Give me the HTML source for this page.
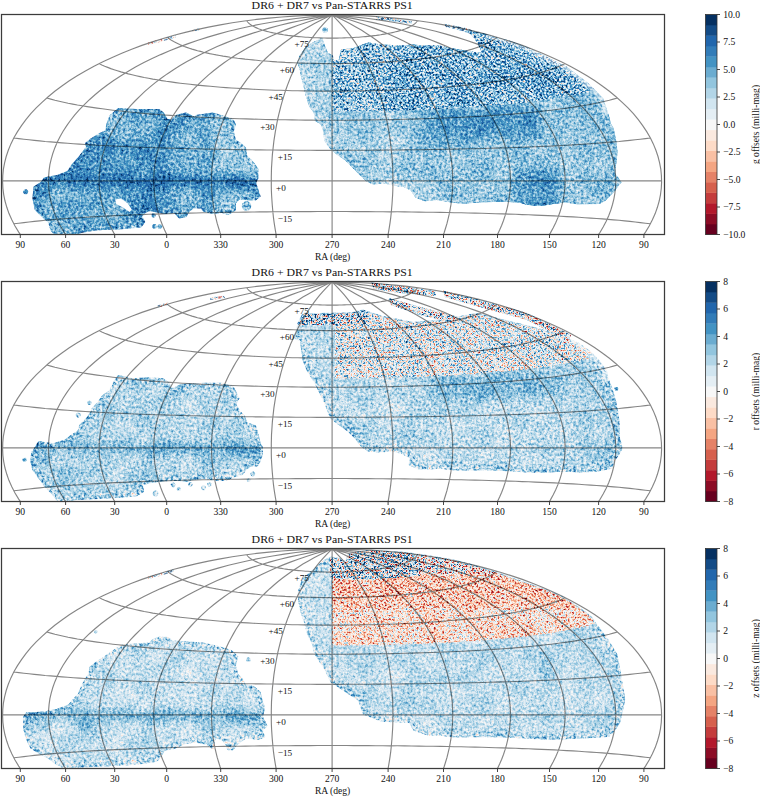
<!DOCTYPE html><html><head><meta charset="utf-8"><style>html,body{margin:0;padding:0;background:#fff;}svg{display:block;}text{font-family:"Liberation Serif",serif;fill:#111;}</style></head><body>
<svg width="760" height="797" viewBox="0 0 760 797">
<defs>
<clipPath id="clip0"><rect x="1.5" y="14.5" width="663.0" height="220.0"/></clipPath>
<clipPath id="clip1"><rect x="1.5" y="281.5" width="663.0" height="220.0"/></clipPath>
<clipPath id="clip2"><rect x="1.5" y="548.5" width="663.0" height="220.0"/></clipPath>
<filter id="cm" filterUnits="userSpaceOnUse" x="0" y="0" width="760" height="797" color-interpolation-filters="sRGB">
<feGaussianBlur in="SourceGraphic" stdDeviation="4.0" result="sb"/>
<feColorMatrix in="sb" type="matrix" values="0 1 0 0 0 0 1 0 0 0 0 1 0 0 0 0 0 0 0 1" result="amp"/>
<feColorMatrix in="sb" type="matrix" values="1 0 0 0 0 1 0 0 0 0 1 0 0 0 0 0 0 0 0 1" result="bias"/>
<feTurbulence type="fractalNoise" baseFrequency="0.38" numOctaves="2" seed="3" result="t"/>
<feColorMatrix in="t" type="matrix" values="1 0 0 0 0 1 0 0 0 0 1 0 0 0 0 0 0 0 0 1" result="n"/>
<feComposite in="amp" in2="n" operator="arithmetic" k1="2.0" k2="-1.0" k3="0" k4="0.5" result="x"/>
<feTurbulence type="fractalNoise" baseFrequency="0.045" numOctaves="2" seed="11" result="t2"/>
<feColorMatrix in="t2" type="matrix" values="1 0 0 0 0 1 0 0 0 0 1 0 0 0 0 0 0 0 0 1" result="n2"/>
<feComposite in="x" in2="n2" operator="arithmetic" k1="0" k2="1" k3="0.15" k4="-0.075" result="x2"/>
<feComposite in="bias" in2="x2" operator="arithmetic" k1="0" k2="1" k3="1" k4="-0.5" result="v"/>
<feComponentTransfer in="v"><feFuncR type="discrete" tableValues="0.4039 0.5510 0.6980 0.7686 0.8392 0.8980 0.9569 0.9745 0.9922 0.9804 0.9686 0.8941 0.8196 0.6961 0.5725 0.4176 0.2627 0.1961 0.1294 0.0745 0.0196"/><feFuncG type="discrete" tableValues="0.0000 0.0471 0.0941 0.2353 0.3765 0.5118 0.6471 0.7529 0.8588 0.9137 0.9686 0.9333 0.8980 0.8353 0.7725 0.6745 0.5765 0.4882 0.4000 0.2941 0.1882"/><feFuncB type="discrete" tableValues="0.1216 0.1451 0.1686 0.2353 0.3020 0.4059 0.5098 0.6451 0.7804 0.8745 0.9686 0.9549 0.9412 0.9059 0.8706 0.8176 0.7647 0.7196 0.6745 0.5275 0.3804"/><feFuncA type="linear" slope="0" intercept="1"/></feComponentTransfer>
<feGaussianBlur stdDeviation="0.55"/>
<feComposite in2="SourceAlpha" operator="in"/>
</filter>
<filter id="cm2" filterUnits="userSpaceOnUse" x="0" y="0" width="760" height="797" color-interpolation-filters="sRGB">
<feGaussianBlur in="SourceGraphic" stdDeviation="1.5" result="sb"/>
<feColorMatrix in="sb" type="matrix" values="0 1 0 0 0 0 1 0 0 0 0 1 0 0 0 0 0 0 0 1" result="amp"/>
<feColorMatrix in="sb" type="matrix" values="1 0 0 0 0 1 0 0 0 0 1 0 0 0 0 0 0 0 0 1" result="bias"/>
<feTurbulence type="fractalNoise" baseFrequency="0.47" numOctaves="2" seed="7" result="t"/>
<feColorMatrix in="t" type="matrix" values="1 0 0 0 0 1 0 0 0 0 1 0 0 0 0 0 0 0 0 1" result="n"/>
<feComposite in="amp" in2="n" operator="arithmetic" k1="2.0" k2="-1.0" k3="0" k4="0.5" result="x"/>
<feTurbulence type="fractalNoise" baseFrequency="0.045" numOctaves="2" seed="5" result="t2"/>
<feColorMatrix in="t2" type="matrix" values="1 0 0 0 0 1 0 0 0 0 1 0 0 0 0 0 0 0 0 1" result="n2"/>
<feComposite in="x" in2="n2" operator="arithmetic" k1="0" k2="1" k3="0.15" k4="-0.075" result="x2"/>
<feComposite in="bias" in2="x2" operator="arithmetic" k1="0" k2="1" k3="1" k4="-0.5" result="v"/>
<feComponentTransfer in="v"><feFuncR type="discrete" tableValues="0.4039 0.5510 0.6980 0.7686 0.8392 0.8980 0.9569 0.9745 0.9922 0.9804 0.9686 0.8941 0.8196 0.6961 0.5725 0.4176 0.2627 0.1961 0.1294 0.0745 0.0196"/><feFuncG type="discrete" tableValues="0.0000 0.0471 0.0941 0.2353 0.3765 0.5118 0.6471 0.7529 0.8588 0.9137 0.9686 0.9333 0.8980 0.8353 0.7725 0.6745 0.5765 0.4882 0.4000 0.2941 0.1882"/><feFuncB type="discrete" tableValues="0.1216 0.1451 0.1686 0.2353 0.3020 0.4059 0.5098 0.6451 0.7804 0.8745 0.9686 0.9549 0.9412 0.9059 0.8706 0.8176 0.7647 0.7196 0.6745 0.5275 0.3804"/><feFuncA type="linear" slope="0" intercept="1"/></feComponentTransfer>
<feGaussianBlur stdDeviation="0.45"/>
<feComposite in2="SourceAlpha" operator="in"/>
</filter>
<clipPath id="fp0"><path d="M118.4 108.9 L136.3 110.1 L150.0 110.1 L158.9 110.1 L163.2 113.4 L167.0 120.0 L172.1 120.1 L176.6 115.7 L185.8 113.4 L194.7 117.9 L197.0 115.7 L212.6 113.4 L223.8 116.8 L232.8 120.1 L235.0 124.6 L232.8 131.3 L235.0 140.3 L241.7 144.7 L245.1 148.1 L246.2 155.9 L252.9 162.6 L257.4 169.4 L257.4 178.3 L255.1 182.8 L257.4 189.5 L259.6 196.2 L255.1 199.6 L250.7 199.6 L239.5 198.4 L235.0 202.9 L235.0 209.6 L228.3 214.1 L221.6 211.9 L212.6 213.0 L203.7 210.7 L201.5 207.4 L194.7 207.4 L190.3 209.6 L188.0 211.9 L185.8 216.3 L179.1 217.4 L174.6 211.9 L165.7 213.0 L158.9 211.9 L150.0 210.0 L145.3 211.9 L141.0 216.0 L144.2 221.9 L140.8 226.4 L118.4 228.6 L102.9 229.0 L93.8 229.8 L80.8 232.0 L73.7 235.0 L55.8 235.0 L51.3 229.8 L49.1 221.9 L42.4 216.3 L35.7 209.6 L33.4 198.4 L34.5 187.2 L41.3 182.8 L44.6 178.3 L56.9 176.1 L68.1 171.6 L72.6 164.9 L80.4 155.9 L87.1 147.0 L86.0 143.6 L91.6 139.1 L100.5 133.6 L106.1 131.3 L107.2 124.6 L110.6 115.7Z M322.1 37.7 L324.5 44.8 L328.0 53.1 L332.8 55.4 L334.0 60.2 L338.7 60.2 L341.0 49.5 L352.9 48.3 L360.0 45.6 L368.4 42.4 L381.0 44.5 L402.1 45.6 L412.6 44.5 L423.2 45.6 L440.0 45.6 L448.4 47.7 L461.0 49.8 L473.7 51.9 L482.1 53.0 L477.9 43.5 L473.7 37.2 L467.4 30.8 L478.0 32.5 L486.3 34.0 L492.6 36.4 L508.4 40.3 L526.8 46.9 L542.6 54.8 L555.8 61.4 L566.3 66.6 L576.8 74.5 L587.4 82.4 L595.3 90.3 L603.2 98.2 L604.5 102.2 L608.4 114.0 L611.1 124.0 L613.7 128.4 L616.3 141.6 L617.6 152.1 L616.3 162.6 L615.0 173.2 L618.9 178.4 L621.6 182.4 L618.9 185.0 L614.6 191.6 L605.0 201.0 L599.5 204.0 L576.8 204.2 L566.3 202.6 L555.8 203.4 L545.3 205.3 L537.4 206.1 L526.8 204.7 L518.9 202.6 L508.4 202.1 L492.6 202.1 L479.5 202.6 L466.3 203.4 L460.5 203.6 L451.1 202.4 L436.8 200.0 L425.0 201.2 L415.5 197.6 L410.8 190.5 L403.7 187.0 L394.2 185.8 L384.7 183.4 L372.9 184.6 L365.8 181.1 L358.7 174.0 L351.6 166.8 L344.5 159.7 L337.4 155.0 L330.3 149.1 L324.3 140.8 L323.2 131.3 L320.8 124.2 L314.9 120.7 L313.7 112.4 L309.1 106.4 L305.5 94.5 L303.2 85.1 L300.8 75.6 L299.6 68.5 L297.2 62.6 L299.6 55.4 L305.5 47.2 L312.6 42.4Z M28.2 191.7 L27.7 193.2 L26.4 194.2 L24.8 194.2 L23.5 193.2 L23.0 191.7 L23.5 190.2 L24.8 189.2 L26.4 189.2 L27.7 190.2Z M155.7 215.5 L155.3 216.8 L154.2 217.6 L152.8 217.6 L151.7 216.8 L151.3 215.5 L151.7 214.2 L152.8 213.4 L154.2 213.4 L155.3 214.2Z M157.0 226.4 L156.5 227.9 L155.3 228.8 L153.7 228.8 L152.5 227.9 L152.0 226.4 L152.5 224.9 L153.7 224.0 L155.3 224.0 L156.5 224.9Z M162.3 226.4 L161.8 227.9 L160.6 228.8 L159.0 228.8 L157.8 227.9 L157.3 226.4 L157.8 224.9 L159.0 224.0 L160.6 224.0 L161.8 224.9Z M251.3 206.0 L250.4 208.8 L248.0 210.6 L245.0 210.6 L242.6 208.8 L241.7 206.0 L242.6 203.2 L245.0 201.4 L248.0 201.4 L250.4 203.2Z M328.0 30.0 L327.4 31.8 L325.9 32.9 L324.1 32.9 L322.6 31.8 L322.0 30.0 L322.6 28.2 L324.1 27.1 L325.9 27.1 L327.4 28.2Z"/></clipPath>
<clipPath id="fp1"><path d="M118.4 108.9 L131.9 112.3 L149.8 111.2 L163.2 112.3 L167.7 115.7 L172.1 122.4 L176.6 120.1 L181.3 117.9 L203.7 116.8 L221.6 116.8 L232.8 120.1 L238.4 131.3 L235.0 136.9 L239.5 144.7 L244.0 149.2 L246.2 155.9 L255.1 159.3 L257.4 167.1 L259.6 176.1 L261.9 180.5 L261.9 187.2 L259.6 194.0 L257.4 198.4 L250.7 198.4 L246.2 201.8 L241.7 207.4 L232.8 209.6 L226.1 213.0 L217.1 213.0 L210.4 211.9 L203.7 210.7 L194.7 211.9 L185.8 214.1 L176.8 213.0 L167.9 213.0 L158.9 214.1 L150.0 215.2 L141.9 217.4 L143.0 224.2 L136.3 228.6 L120.7 229.8 L98.3 230.9 L75.9 232.0 L60.0 235.0 L56.9 232.0 L51.3 225.3 L44.6 218.6 L40.1 211.9 L33.4 202.9 L31.2 194.0 L32.3 185.0 L35.7 180.5 L39.0 174.9 L44.6 176.1 L53.6 177.2 L64.7 173.8 L73.7 167.1 L78.2 164.9 L80.4 158.2 L87.1 151.5 L91.6 144.7 L92.7 141.4 L98.3 135.8 L102.8 129.1 L109.5 124.6 L114.0 115.7Z M303.2 47.2 L350.0 46.6 L362.6 43.4 L381.6 49.7 L413.0 56.0 L444.7 53.0 L476.0 47.0 L508.0 54.5 L539.5 62.4 L571.0 73.4 L579.5 77.2 L590.0 85.0 L597.9 93.0 L605.8 103.5 L608.4 114.0 L611.1 120.5 L615.0 133.7 L617.6 146.8 L618.9 160.0 L618.9 170.5 L621.6 181.0 L618.9 186.3 L613.7 194.2 L611.1 200.8 L597.9 203.4 L582.1 204.7 L563.7 203.4 L545.3 204.7 L529.5 204.7 L513.7 203.4 L492.6 202.6 L471.6 202.6 L455.8 202.6 L440.0 200.8 L432.1 201.2 L417.9 201.2 L409.6 197.6 L410.8 190.5 L401.3 185.8 L391.8 183.4 L380.0 184.6 L368.2 183.4 L361.1 178.7 L356.3 171.6 L349.2 164.5 L339.7 157.4 L331.4 151.4 L327.9 143.2 L324.3 133.7 L319.6 124.2 L316.1 117.1 L312.5 111.2 L307.9 104.0 L303.2 92.2 L302.0 82.7 L300.8 73.2 L294.9 70.8 L297.2 63.7 L298.4 56.6Z M26.7 192.8 L26.3 194.1 L25.2 194.9 L23.8 194.9 L22.7 194.1 L22.3 192.8 L22.7 191.5 L23.8 190.7 L25.2 190.7 L26.3 191.5Z M80.7 148.1 L80.2 149.6 L79.0 150.5 L77.4 150.5 L76.2 149.6 L75.7 148.1 L76.2 146.6 L77.4 145.7 L79.0 145.7 L80.2 146.6Z M91.6 135.8 L91.2 137.1 L90.1 137.9 L88.7 137.9 L87.6 137.1 L87.2 135.8 L87.6 134.5 L88.7 133.7 L90.1 133.7 L91.2 134.5Z M158.5 226.5 L157.9 228.3 L156.4 229.4 L154.6 229.4 L153.1 228.3 L152.5 226.5 L153.1 224.7 L154.6 223.6 L156.4 223.6 L157.9 224.7Z M181.0 221.9 L180.6 223.2 L179.5 224.0 L178.1 224.0 L177.0 223.2 L176.6 221.9 L177.0 220.6 L178.1 219.8 L179.5 219.8 L180.6 220.6Z M250.6 213.0 L250.2 214.3 L249.1 215.1 L247.7 215.1 L246.6 214.3 L246.2 213.0 L246.6 211.7 L247.7 210.9 L249.1 210.9 L250.2 211.7Z M255.4 207.0 L254.9 208.5 L253.7 209.4 L252.1 209.4 L250.9 208.5 L250.4 207.0 L250.9 205.5 L252.1 204.6 L253.7 204.6 L254.9 205.5Z M175.5 218.0 L175.0 219.5 L173.8 220.4 L172.2 220.4 L171.0 219.5 L170.5 218.0 L171.0 216.5 L172.2 215.6 L173.8 215.6 L175.0 216.5Z M192.5 217.4 L192.1 218.7 L191.0 219.5 L189.6 219.5 L188.5 218.7 L188.1 217.4 L188.5 216.1 L189.6 215.3 L191.0 215.3 L192.1 216.1Z M206.2 220.8 L205.7 222.3 L204.5 223.2 L202.9 223.2 L201.7 222.3 L201.2 220.8 L201.7 219.3 L202.9 218.4 L204.5 218.4 L205.7 219.3Z M211.5 217.4 L211.1 218.7 L210.0 219.5 L208.6 219.5 L207.5 218.7 L207.1 217.4 L207.5 216.1 L208.6 215.3 L210.0 215.3 L211.1 216.1Z M618.3 121.8 L617.9 123.0 L616.9 123.7 L615.7 123.7 L614.7 123.0 L614.3 121.8 L614.7 120.6 L615.7 119.9 L616.9 119.9 L617.9 120.6Z M371.0 15.5 L400.0 19.0 L436.0 24.0 L436.0 29.0 L400.0 26.0 L374.0 22.0Z M443.0 23.5 L480.0 33.0 L527.0 46.0 L571.0 68.0 L568.0 74.0 L527.0 53.0 L480.0 40.0 L445.0 30.0Z M389.0 31.0 L420.0 40.0 L455.0 49.0 L455.0 56.0 L420.0 48.0 L391.0 38.0Z"/></clipPath>
<clipPath id="fp2"><path d="M112.0 118.0 L118.0 114.0 L122.0 111.5 L135.0 110.5 L150.0 109.5 L153.0 106.0 L160.0 103.4 L168.0 104.0 L172.0 107.6 L190.0 108.5 L204.0 109.7 L218.0 113.0 L231.0 117.0 L237.2 122.4 L235.0 131.3 L237.2 140.3 L241.7 144.7 L245.1 151.5 L252.9 152.6 L259.6 158.2 L261.9 167.1 L264.1 173.8 L261.9 182.8 L265.2 189.5 L266.3 191.7 L261.9 196.2 L264.1 202.9 L257.4 205.1 L246.2 202.9 L237.2 209.6 L232.8 215.2 L228.3 215.2 L226.1 209.6 L221.6 205.1 L214.9 202.9 L212.6 214.1 L205.9 209.6 L194.7 207.4 L183.6 209.6 L174.0 214.0 L164.0 216.0 L161.6 220.8 L156.8 226.7 L142.6 229.1 L128.4 230.3 L104.7 231.5 L81.1 232.6 L66.8 235.0 L62.1 232.6 L55.0 229.1 L47.9 223.2 L38.4 218.4 L31.3 213.7 L26.6 204.2 L24.2 194.7 L24.2 182.9 L26.6 179.3 L33.7 179.3 L45.5 178.2 L57.4 175.8 L69.2 171.1 L74.0 165.1 L78.7 160.4 L82.2 152.1 L85.8 145.0 L89.3 140.3 L90.5 133.2 L97.0 128.0 L105.0 123.0Z M324.5 27.0 L331.6 23.5 L338.7 24.7 L345.8 28.2 L348.2 21.1 L355.3 18.7 L369.5 16.8 L383.7 17.6 L402.6 18.7 L421.6 21.1 L435.8 23.5 L450.0 25.8 L466.3 29.8 L492.6 37.7 L518.9 46.9 L545.3 56.1 L563.7 64.0 L579.5 74.5 L590.0 82.4 L597.9 93.0 L605.8 103.5 L611.1 112.0 L616.3 120.5 L619.0 133.7 L621.6 149.5 L624.2 165.3 L621.6 178.4 L619.0 189.0 L613.7 196.8 L608.4 202.1 L584.7 203.4 L563.7 204.2 L545.3 204.7 L524.2 203.4 L505.8 202.6 L479.5 202.1 L455.8 202.6 L440.0 200.8 L428.2 200.5 L414.4 195.9 L409.8 188.1 L382.1 186.7 L363.7 179.8 L359.1 166.0 L345.3 156.8 L331.5 147.6 L324.5 133.8 L315.3 119.9 L312.6 108.7 L307.9 99.3 L305.5 89.8 L300.8 75.6 L299.6 68.5 L298.4 59.0 L300.8 51.9 L303.2 44.8 L310.3 38.9 L317.4 33.0Z M250.9 125.7 L250.4 127.2 L249.2 128.1 L247.6 128.1 L246.4 127.2 L245.9 125.7 L246.4 124.2 L247.6 123.3 L249.2 123.3 L250.4 124.2Z M97.5 97.8 L97.2 98.9 L96.3 99.5 L95.1 99.5 L94.2 98.9 L93.9 97.8 L94.2 96.7 L95.1 96.1 L96.3 96.1 L97.2 96.7Z"/></clipPath>
<path id="grid" d="M188.3 266.8 L184.6 262.3 L181.1 257.8 L177.8 253.3 L174.8 248.7 L171.9 244.1 L169.2 239.4 L166.8 234.7 L164.6 230 L162.5 225.2 L160.7 220.5 L159.1 215.7 L157.7 210.8 L156.5 206 L155.6 201.2 L154.8 196.3 L154.3 191.4 L153.9 186.5 L153.8 181.7 L153.8 176.8 L154.1 171.9 L154.6 167 L155.3 162.2 L156.2 157.3 L157.3 152.5 L158.7 147.6 L160.2 142.8 L162 138 L163.9 133.3 L166.1 128.5 L168.5 123.8 L171 119.2 L173.8 114.5 L176.9 109.9 L180.1 105.4 L183.5 100.9 L187.2 96.4 L191 92 L195.1 87.6 L199.4 83.3 L203.9 79.1 L208.6 74.9 L213.6 70.8 L218.7 66.8 L224.1 62.8 L229.7 58.9 L235.6 55.1 L241.6 51.4 L247.9 47.7 L254.4 44.2 L261.1 40.8 L268 37.4 L275.2 34.2 L282.6 31.1 L290.3 28.1 L298.2 25.2 L306.3 22.5 L314.6 19.8 L323.2 17.4 L332.1 15 M146.2 271.6 L141.2 267 L136.4 262.3 L132 257.6 L127.8 252.8 L123.9 247.9 L120.3 243.1 L116.9 238.1 L113.9 233.1 L111.1 228.1 L108.6 223 L106.4 217.9 L104.5 212.8 L102.9 207.7 L101.6 202.5 L100.5 197.3 L99.8 192.1 L99.3 186.9 L99.1 181.7 L99.2 176.5 L99.6 171.3 L100.3 166.1 L101.2 160.9 L102.5 155.7 L104 150.6 L105.8 145.5 L107.9 140.4 L110.3 135.3 L113 130.2 L116 125.2 L119.2 120.3 L122.7 115.4 L126.5 110.5 L130.6 105.7 L135 101 L139.7 96.3 L144.6 91.6 L149.8 87.1 L155.3 82.6 L161.1 78.2 L167.2 73.9 L173.5 69.7 L180.1 65.6 L187 61.6 L194.1 57.7 L201.5 53.9 L209.2 50.2 L217.2 46.6 L225.4 43.1 L233.8 39.8 L242.6 36.6 L251.5 33.6 L260.8 30.7 L270.2 27.9 L280 25.3 L289.9 22.9 L300.1 20.7 L310.5 18.6 L321.2 16.7 L332.1 15 M109.4 278.3 L102.9 273.5 L96.9 268.7 L91.1 263.7 L85.7 258.6 L80.7 253.5 L76 248.3 L71.7 243 L67.7 237.6 L64.1 232.2 L60.9 226.7 L58 221.2 L55.5 215.7 L53.4 210.1 L51.7 204.5 L50.3 198.8 L49.3 193.1 L48.7 187.5 L48.4 181.8 L48.6 176.1 L49.1 170.4 L49.9 164.7 L51.2 159.1 L52.8 153.5 L54.8 147.9 L57.2 142.3 L60 136.8 L63.1 131.3 L66.6 125.9 L70.4 120.5 L74.6 115.2 L79.2 109.9 L84.1 104.8 L89.4 99.7 L95 94.7 L101 89.8 L107.3 85 L114 80.3 L121 75.7 L128.3 71.2 L135.9 66.8 L143.9 62.6 L152.1 58.5 L160.7 54.6 L169.6 50.8 L178.7 47.1 L188.2 43.6 L197.9 40.3 L207.8 37.1 L218.1 34.1 L228.5 31.3 L239.2 28.7 L250.2 26.2 L261.3 24 L272.7 22 L284.2 20.1 L295.9 18.5 L307.8 17.1 L319.9 16 L332 15 M584.5 287.5 L592.5 282.6 L600 277.5 L607.2 272.2 L614 266.8 L620.3 261.3 L626.3 255.6 L631.8 249.9 L636.8 244 L641.4 238.1 L645.5 232.1 L649.2 226 L652.4 219.8 L655.2 213.6 L657.4 207.3 L659.2 201 L660.5 194.6 L661.3 188.3 L661.6 181.9 L661.4 175.5 L660.8 169.1 L659.6 162.8 L658 156.5 L655.9 150.2 L653.3 143.9 L650.3 137.7 L646.7 131.6 L642.7 125.6 L638.3 119.6 L633.4 113.7 L628 107.9 L622.2 102.3 L616 96.7 L609.4 91.3 L602.3 86 L594.9 80.8 L587 75.8 L578.8 70.9 L570.2 66.2 L561.3 61.7 L552 57.4 L542.4 53.2 L532.5 49.2 L522.3 45.4 L511.8 41.9 L501.1 38.5 L490.1 35.3 L478.9 32.4 L467.4 29.6 L455.8 27.1 L443.9 24.9 L431.9 22.8 L419.8 21 L407.5 19.4 L395.1 18.1 L382.6 17 L370.1 16.1 L357.5 15.5 L344.8 15.1 L332.2 15 M79.7 287.5 L71.7 282.6 L64.2 277.5 L57 272.2 L50.2 266.8 L43.9 261.3 L37.9 255.6 L32.4 249.9 L27.4 244 L22.8 238.1 L18.7 232.1 L15 226 L11.8 219.8 L9 213.6 L6.8 207.3 L5 201 L3.7 194.6 L2.9 188.3 L2.6 181.9 L2.8 175.5 L3.4 169.1 L4.6 162.8 L6.2 156.5 L8.3 150.2 L10.9 143.9 L13.9 137.7 L17.5 131.6 L21.5 125.6 L25.9 119.6 L30.8 113.7 L36.2 107.9 L42 102.3 L48.2 96.7 L54.8 91.3 L61.9 86 L69.3 80.8 L77.2 75.8 L85.4 70.9 L94 66.2 L102.9 61.7 L112.2 57.4 L121.8 53.2 L131.7 49.2 L141.9 45.4 L152.4 41.9 L163.1 38.5 L174.1 35.3 L185.3 32.4 L196.8 29.6 L208.4 27.1 L220.3 24.9 L232.3 22.8 L244.4 21 L256.7 19.4 L269.1 18.1 L281.6 17 L294.1 16.1 L306.7 15.5 L319.4 15.1 L332 15 M554.8 278.3 L561.3 273.5 L567.3 268.7 L573.1 263.7 L578.5 258.6 L583.5 253.5 L588.2 248.3 L592.5 243 L596.5 237.6 L600.1 232.2 L603.3 226.7 L606.2 221.2 L608.7 215.7 L610.8 210.1 L612.5 204.5 L613.9 198.8 L614.9 193.1 L615.5 187.5 L615.8 181.8 L615.6 176.1 L615.1 170.4 L614.3 164.7 L613 159.1 L611.4 153.5 L609.4 147.9 L607 142.3 L604.2 136.8 L601.1 131.3 L597.6 125.9 L593.8 120.5 L589.6 115.2 L585 109.9 L580.1 104.8 L574.8 99.7 L569.2 94.7 L563.2 89.8 L556.9 85 L550.2 80.3 L543.2 75.7 L535.9 71.2 L528.3 66.8 L520.3 62.6 L512.1 58.5 L503.5 54.6 L494.6 50.8 L485.5 47.1 L476 43.6 L466.3 40.3 L456.4 37.1 L446.1 34.1 L435.7 31.3 L425 28.7 L414 26.2 L402.9 24 L391.5 22 L380 20.1 L368.3 18.5 L356.4 17.1 L344.3 16 L332.2 15 M518 271.6 L523 267 L527.8 262.3 L532.2 257.6 L536.4 252.8 L540.3 247.9 L543.9 243.1 L547.3 238.1 L550.3 233.1 L553.1 228.1 L555.6 223 L557.8 217.9 L559.7 212.8 L561.3 207.7 L562.6 202.5 L563.7 197.3 L564.4 192.1 L564.9 186.9 L565.1 181.7 L565 176.5 L564.6 171.3 L563.9 166.1 L563 160.9 L561.7 155.7 L560.2 150.6 L558.4 145.5 L556.3 140.4 L553.9 135.3 L551.2 130.2 L548.2 125.2 L545 120.3 L541.5 115.4 L537.7 110.5 L533.6 105.7 L529.2 101 L524.5 96.3 L519.6 91.6 L514.4 87.1 L508.9 82.6 L503.1 78.2 L497 73.9 L490.7 69.7 L484.1 65.6 L477.2 61.6 L470.1 57.7 L462.7 53.9 L455 50.2 L447 46.6 L438.8 43.1 L430.4 39.8 L421.6 36.6 L412.7 33.6 L403.4 30.7 L394 27.9 L384.2 25.3 L374.3 22.9 L364.1 20.7 L353.7 18.6 L343 16.7 L332.1 15 M475.9 266.8 L479.6 262.3 L483.1 257.8 L486.4 253.3 L489.4 248.7 L492.3 244.1 L495 239.4 L497.4 234.7 L499.6 230 L501.7 225.2 L503.5 220.5 L505.1 215.7 L506.5 210.8 L507.7 206 L508.6 201.2 L509.4 196.3 L509.9 191.4 L510.3 186.5 L510.4 181.7 L510.4 176.8 L510.1 171.9 L509.6 167 L508.9 162.2 L508 157.3 L506.9 152.5 L505.5 147.6 L504 142.8 L502.2 138 L500.3 133.3 L498.1 128.5 L495.7 123.8 L493.2 119.2 L490.4 114.5 L487.3 109.9 L484.1 105.4 L480.7 100.9 L477 96.4 L473.2 92 L469.1 87.6 L464.8 83.3 L460.3 79.1 L455.6 74.9 L450.6 70.8 L445.5 66.8 L440.1 62.8 L434.5 58.9 L428.6 55.1 L422.6 51.4 L416.3 47.7 L409.8 44.2 L403.1 40.8 L396.2 37.4 L389 34.2 L381.6 31.1 L373.9 28.1 L366 25.2 L357.9 22.5 L349.6 19.8 L341 17.4 L332.1 15 M430 263.6 L432.4 259.2 L434.7 254.9 L436.9 250.4 L438.9 246 L440.8 241.5 L442.6 237 L444.2 232.5 L445.6 228 L447 223.4 L448.1 218.8 L449.2 214.2 L450.1 209.6 L450.9 204.9 L451.5 200.3 L452 195.6 L452.4 191 L452.6 186.3 L452.7 181.6 L452.7 177 L452.5 172.3 L452.2 167.6 L451.7 163 L451.1 158.3 L450.4 153.7 L449.5 149 L448.5 144.4 L447.3 139.8 L446.1 135.3 L444.6 130.7 L443.1 126.2 L441.4 121.7 L439.5 117.2 L437.5 112.7 L435.4 108.3 L433.1 103.9 L430.7 99.6 L428.2 95.3 L425.5 91 L422.6 86.8 L419.6 82.6 L416.5 78.4 L413.2 74.3 L409.8 70.3 L406.2 66.3 L402.4 62.4 L398.5 58.5 L394.4 54.7 L390.2 51 L385.8 47.3 L381.3 43.7 L376.5 40.2 L371.6 36.7 L366.5 33.4 L361.3 30.1 L355.8 26.9 L350.2 23.8 L344.4 20.8 L338.4 17.8 L332.1 15 M381.6 261.7 L382.9 257.5 L384 253.2 L385.1 248.8 L386.1 244.5 L387 240.1 L387.9 235.7 L388.7 231.2 L389.4 226.8 L390.1 222.3 L390.7 217.8 L391.2 213.3 L391.6 208.8 L392 204.3 L392.3 199.8 L392.6 195.2 L392.8 190.7 L392.9 186.2 L392.9 181.6 L392.9 177.1 L392.8 172.5 L392.7 168 L392.4 163.4 L392.1 158.9 L391.8 154.4 L391.3 149.9 L390.8 145.4 L390.3 140.9 L389.6 136.4 L388.9 131.9 L388.1 127.5 L387.3 123.1 L386.4 118.7 L385.4 114.3 L384.3 110 L383.2 105.7 L382 101.4 L380.7 97.1 L379.4 92.9 L378 88.7 L376.5 84.6 L374.9 80.5 L373.3 76.4 L371.5 72.4 L369.7 68.4 L367.9 64.4 L365.9 60.6 L363.9 56.7 L361.7 52.9 L359.5 49.2 L357.2 45.5 L354.8 41.9 L352.3 38.3 L349.8 34.8 L347.1 31.3 L344.3 27.9 L341.4 24.6 L338.4 21.3 L335.3 18.1 L332.1 15 M332.1 261.1 L332.1 256.9 L332.1 252.6 L332.1 248.3 L332.1 244 L332.1 239.6 L332.1 235.2 L332.1 230.8 L332.1 226.4 L332.1 222 L332.1 217.5 L332.1 213.1 L332.1 208.6 L332.1 204.1 L332.1 199.6 L332.1 195.1 L332.1 190.6 L332.1 186.1 L332.1 181.6 L332.1 177.1 L332.1 172.6 L332.1 168.1 L332.1 163.6 L332.1 159.1 L332.1 154.6 L332.1 150.1 L332.1 145.6 L332.1 141.2 L332.1 136.8 L332.1 132.3 L332.1 127.9 L332.1 123.5 L332.1 119.2 L332.1 114.8 L332.1 110.5 L332.1 106.2 L332.1 102 L332.1 97.7 L332.1 93.5 L332.1 89.4 L332.1 85.2 L332.1 81.1 L332.1 77.1 L332.1 73 L332.1 69.1 L332.1 65.1 L332.1 61.2 L332.1 57.4 L332.1 53.5 L332.1 49.8 L332.1 46.1 L332.1 42.4 L332.1 38.8 L332.1 35.2 L332.1 31.7 L332.1 28.3 L332.1 24.9 L332.1 21.5 L332.1 18.2 L332.1 15 M282.6 261.7 L281.3 257.5 L280.2 253.2 L279.1 248.8 L278.1 244.5 L277.2 240.1 L276.3 235.7 L275.5 231.2 L274.8 226.8 L274.1 222.3 L273.5 217.8 L273 213.3 L272.6 208.8 L272.2 204.3 L271.9 199.8 L271.6 195.2 L271.4 190.7 L271.3 186.2 L271.3 181.6 L271.3 177.1 L271.4 172.5 L271.5 168 L271.8 163.4 L272.1 158.9 L272.4 154.4 L272.9 149.9 L273.4 145.4 L273.9 140.9 L274.6 136.4 L275.3 131.9 L276.1 127.5 L276.9 123.1 L277.8 118.7 L278.8 114.3 L279.9 110 L281 105.7 L282.2 101.4 L283.5 97.1 L284.8 92.9 L286.2 88.7 L287.7 84.6 L289.3 80.5 L290.9 76.4 L292.7 72.4 L294.5 68.4 L296.3 64.4 L298.3 60.6 L300.3 56.7 L302.5 52.9 L304.7 49.2 L307 45.5 L309.4 41.9 L311.9 38.3 L314.4 34.8 L317.1 31.3 L319.9 27.9 L322.8 24.6 L325.8 21.3 L328.9 18.1 L332.1 15 M234.2 263.6 L231.8 259.2 L229.5 254.9 L227.3 250.4 L225.3 246 L223.4 241.5 L221.6 237 L220 232.5 L218.6 228 L217.2 223.4 L216.1 218.8 L215 214.2 L214.1 209.6 L213.3 204.9 L212.7 200.3 L212.2 195.6 L211.8 191 L211.6 186.3 L211.5 181.6 L211.5 177 L211.7 172.3 L212 167.6 L212.5 163 L213.1 158.3 L213.8 153.7 L214.7 149 L215.7 144.4 L216.9 139.8 L218.1 135.3 L219.6 130.7 L221.1 126.2 L222.8 121.7 L224.7 117.2 L226.7 112.7 L228.8 108.3 L231.1 103.9 L233.5 99.6 L236 95.3 L238.7 91 L241.6 86.8 L244.6 82.6 L247.7 78.4 L251 74.3 L254.4 70.3 L258 66.3 L261.8 62.4 L265.7 58.5 L269.8 54.7 L274 51 L278.4 47.3 L282.9 43.7 L287.7 40.2 L292.6 36.7 L297.7 33.4 L302.9 30.1 L308.4 26.9 L314 23.8 L319.8 20.8 L325.8 17.8 L332.1 15 M617.5 263.8 L613.4 262.7 L609.3 261.6 L605 260.6 L600.6 259.6 L596.1 258.6 L591.5 257.7 L586.8 256.8 L582 256 L577.1 255.2 L572.1 254.4 L567.1 253.7 L561.9 253 L556.6 252.3 L551.3 251.6 L545.9 251 L540.4 250.4 L534.8 249.8 L529.2 249.3 L523.5 248.7 L517.7 248.2 L511.9 247.7 L506 247.3 L500 246.8 L494 246.4 L488 246 L481.9 245.6 L475.7 245.3 L469.5 244.9 L463.2 244.6 L456.9 244.3 L450.6 244 L444.2 243.8 L437.8 243.5 L431.4 243.3 L424.9 243.1 L418.4 242.9 L411.9 242.7 L405.3 242.5 L398.7 242.3 L392.1 242.2 L385.5 242.1 L378.9 242 L372.2 241.9 L365.5 241.8 L358.9 241.7 L352.2 241.7 L345.5 241.6 L338.8 241.6 L332.1 241.6 L332.1 241.6 L325.4 241.6 L318.7 241.6 L312 241.7 L305.3 241.7 L298.7 241.8 L292 241.9 L285.3 242 L278.7 242.1 L272.1 242.2 L265.5 242.3 L258.9 242.5 L252.3 242.7 L245.8 242.9 L239.3 243.1 L232.8 243.3 L226.4 243.5 L220 243.8 L213.6 244 L207.3 244.3 L201 244.6 L194.7 244.9 L188.5 245.3 L182.3 245.6 L176.2 246 L170.2 246.4 L164.2 246.8 L158.2 247.3 L152.3 247.7 L146.5 248.2 L140.7 248.7 L135 249.3 L129.4 249.8 L123.8 250.4 L118.3 251 L112.9 251.6 L107.6 252.3 L102.3 253 L97.1 253.7 L92.1 254.4 L87.1 255.2 L82.2 256 L77.4 256.8 L72.7 257.7 L68.1 258.6 L63.6 259.6 L59.2 260.6 L54.9 261.6 L50.8 262.7 L46.7 263.8 M650.4 223.8 L645.4 223.2 L640.3 222.6 L635.2 222 L629.9 221.4 L624.6 220.9 L619.1 220.3 L613.6 219.9 L608 219.4 L602.3 218.9 L596.6 218.5 L590.8 218.1 L584.8 217.7 L578.9 217.3 L572.8 216.9 L566.7 216.6 L560.5 216.3 L554.3 215.9 L548 215.6 L541.6 215.4 L535.2 215.1 L528.7 214.8 L522.2 214.6 L515.6 214.3 L508.9 214.1 L502.2 213.9 L495.5 213.7 L488.7 213.5 L481.9 213.3 L475 213.1 L468.1 213 L461.2 212.8 L454.2 212.7 L447.2 212.5 L440.2 212.4 L433.1 212.3 L426 212.2 L418.9 212.1 L411.7 212 L404.5 211.9 L397.4 211.8 L390.1 211.8 L382.9 211.7 L375.7 211.7 L368.4 211.6 L361.2 211.6 L353.9 211.6 L346.7 211.5 L339.4 211.5 L332.1 211.5 L332.1 211.5 L324.8 211.5 L317.5 211.5 L310.3 211.6 L303 211.6 L295.8 211.6 L288.5 211.7 L281.3 211.7 L274.1 211.8 L266.8 211.8 L259.7 211.9 L252.5 212 L245.3 212.1 L238.2 212.2 L231.1 212.3 L224 212.4 L217 212.5 L210 212.7 L203 212.8 L196.1 213 L189.2 213.1 L182.3 213.3 L175.5 213.5 L168.7 213.7 L162 213.9 L155.3 214.1 L148.6 214.3 L142 214.6 L135.5 214.8 L129 215.1 L122.6 215.4 L116.2 215.6 L109.9 215.9 L103.7 216.3 L97.5 216.6 L91.4 216.9 L85.3 217.3 L79.4 217.7 L73.4 218.1 L67.6 218.5 L61.9 218.9 L56.2 219.4 L50.6 219.9 L45.1 220.3 L39.6 220.9 L34.3 221.4 L29 222 L23.9 222.6 L18.8 223.2 L13.8 223.8 M661.6 180.9 L656.3 180.9 L650.9 180.9 L645.4 180.9 L639.8 180.9 L634.2 180.9 L628.4 180.9 L622.6 180.9 L616.8 180.9 L610.8 180.9 L604.8 180.9 L598.7 180.9 L592.5 180.9 L586.3 180.9 L580 180.9 L573.7 180.9 L567.3 180.9 L560.8 180.9 L554.2 180.9 L547.6 180.9 L541 180.9 L534.3 180.9 L527.5 180.9 L520.7 180.9 L513.9 180.9 L507 180.9 L500 180.9 L493 180.9 L486 180.9 L478.9 180.9 L471.8 180.9 L464.7 180.9 L457.5 180.9 L450.3 180.9 L443.1 180.9 L435.8 180.9 L428.5 180.9 L421.2 180.9 L413.8 180.9 L406.5 180.9 L399.1 180.9 L391.7 180.9 L384.3 180.9 L376.8 180.9 L369.4 180.9 L362 180.9 L354.5 180.9 L347 180.9 L339.6 180.9 L332.1 180.9 L332.1 180.9 L324.6 180.9 L317.2 180.9 L309.7 180.9 L302.2 180.9 L294.8 180.9 L287.4 180.9 L279.9 180.9 L272.5 180.9 L265.1 180.9 L257.7 180.9 L250.4 180.9 L243 180.9 L235.7 180.9 L228.4 180.9 L221.1 180.9 L213.9 180.9 L206.7 180.9 L199.5 180.9 L192.4 180.9 L185.3 180.9 L178.2 180.9 L171.2 180.9 L164.2 180.9 L157.2 180.9 L150.3 180.9 L143.5 180.9 L136.7 180.9 L129.9 180.9 L123.2 180.9 L116.6 180.9 L110 180.9 L103.4 180.9 L96.9 180.9 L90.5 180.9 L84.2 180.9 L77.9 180.9 L71.7 180.9 L65.5 180.9 L59.4 180.9 L53.4 180.9 L47.4 180.9 L41.6 180.9 L35.8 180.9 L30 180.9 L24.4 180.9 L18.8 180.9 L13.3 180.9 L7.9 180.9 L2.6 180.9 M650.4 138 L645.4 138.6 L640.3 139.2 L635.2 139.8 L629.9 140.4 L624.6 140.9 L619.1 141.5 L613.6 141.9 L608 142.4 L602.3 142.9 L596.6 143.3 L590.8 143.7 L584.8 144.1 L578.9 144.5 L572.8 144.9 L566.7 145.2 L560.5 145.5 L554.3 145.9 L548 146.2 L541.6 146.4 L535.2 146.7 L528.7 147 L522.2 147.2 L515.6 147.5 L508.9 147.7 L502.2 147.9 L495.5 148.1 L488.7 148.3 L481.9 148.5 L475 148.7 L468.1 148.8 L461.2 149 L454.2 149.1 L447.2 149.3 L440.2 149.4 L433.1 149.5 L426 149.6 L418.9 149.7 L411.7 149.8 L404.5 149.9 L397.4 150 L390.1 150 L382.9 150.1 L375.7 150.1 L368.4 150.2 L361.2 150.2 L353.9 150.2 L346.7 150.3 L339.4 150.3 L332.1 150.3 L332.1 150.3 L324.8 150.3 L317.5 150.3 L310.3 150.2 L303 150.2 L295.8 150.2 L288.5 150.1 L281.3 150.1 L274.1 150 L266.8 150 L259.7 149.9 L252.5 149.8 L245.3 149.7 L238.2 149.6 L231.1 149.5 L224 149.4 L217 149.3 L210 149.1 L203 149 L196.1 148.8 L189.2 148.7 L182.3 148.5 L175.5 148.3 L168.7 148.1 L162 147.9 L155.3 147.7 L148.6 147.5 L142 147.2 L135.5 147 L129 146.7 L122.6 146.4 L116.2 146.2 L109.9 145.9 L103.7 145.5 L97.5 145.2 L91.4 144.9 L85.3 144.5 L79.4 144.1 L73.4 143.7 L67.6 143.3 L61.9 142.9 L56.2 142.4 L50.6 141.9 L45.1 141.5 L39.6 140.9 L34.3 140.4 L29 139.8 L23.9 139.2 L18.8 138.6 L13.8 138 M617.5 98 L613.4 99.1 L609.3 100.2 L605 101.2 L600.6 102.2 L596.1 103.2 L591.5 104.1 L586.8 105 L582 105.8 L577.1 106.6 L572.1 107.4 L567.1 108.1 L561.9 108.8 L556.6 109.5 L551.3 110.2 L545.9 110.8 L540.4 111.4 L534.8 112 L529.2 112.5 L523.5 113.1 L517.7 113.6 L511.9 114.1 L506 114.5 L500 115 L494 115.4 L488 115.8 L481.9 116.2 L475.7 116.5 L469.5 116.9 L463.2 117.2 L456.9 117.5 L450.6 117.8 L444.2 118 L437.8 118.3 L431.4 118.5 L424.9 118.7 L418.4 118.9 L411.9 119.1 L405.3 119.3 L398.7 119.5 L392.1 119.6 L385.5 119.7 L378.9 119.8 L372.2 119.9 L365.5 120 L358.9 120.1 L352.2 120.1 L345.5 120.2 L338.8 120.2 L332.1 120.2 L332.1 120.2 L325.4 120.2 L318.7 120.2 L312 120.1 L305.3 120.1 L298.7 120 L292 119.9 L285.3 119.8 L278.7 119.7 L272.1 119.6 L265.5 119.5 L258.9 119.3 L252.3 119.1 L245.8 118.9 L239.3 118.7 L232.8 118.5 L226.4 118.3 L220 118 L213.6 117.8 L207.3 117.5 L201 117.2 L194.7 116.9 L188.5 116.5 L182.3 116.2 L176.2 115.8 L170.2 115.4 L164.2 115 L158.2 114.5 L152.3 114.1 L146.5 113.6 L140.7 113.1 L135 112.5 L129.4 112 L123.8 111.4 L118.3 110.8 L112.9 110.2 L107.6 109.5 L102.3 108.8 L97.1 108.1 L92.1 107.4 L87.1 106.6 L82.2 105.8 L77.4 105 L72.7 104.1 L68.1 103.2 L63.6 102.2 L59.2 101.2 L54.9 100.2 L50.8 99.1 L46.7 98 M565.1 63.6 L562.4 64.9 L559.5 66.2 L556.5 67.4 L553.4 68.6 L550.1 69.7 L546.8 70.8 L543.3 71.9 L539.6 72.9 L535.9 73.9 L532.1 74.8 L528.1 75.7 L524.1 76.6 L520 77.5 L515.7 78.3 L511.4 79.1 L507 79.8 L502.5 80.6 L498 81.3 L493.3 81.9 L488.6 82.6 L483.9 83.2 L479 83.8 L474.1 84.3 L469.1 84.9 L464.1 85.4 L459 85.9 L453.9 86.3 L448.7 86.8 L443.4 87.2 L438.2 87.6 L432.8 88 L427.5 88.3 L422 88.6 L416.6 88.9 L411.1 89.2 L405.6 89.5 L400.1 89.7 L394.5 90 L388.9 90.2 L383.3 90.3 L377.6 90.5 L372 90.7 L366.3 90.8 L360.6 90.9 L354.9 91 L349.2 91 L343.5 91.1 L337.8 91.1 L332.1 91.1 L332.1 91.1 L326.4 91.1 L320.7 91.1 L315 91 L309.3 91 L303.6 90.9 L297.9 90.8 L292.2 90.7 L286.6 90.5 L280.9 90.3 L275.3 90.2 L269.7 90 L264.1 89.7 L258.6 89.5 L253.1 89.2 L247.6 88.9 L242.2 88.6 L236.8 88.3 L231.4 88 L226 87.6 L220.8 87.2 L215.5 86.8 L210.3 86.3 L205.2 85.9 L200.1 85.4 L195.1 84.9 L190.1 84.3 L185.2 83.8 L180.3 83.2 L175.6 82.6 L170.9 81.9 L166.2 81.3 L161.7 80.6 L157.2 79.8 L152.8 79.1 L148.5 78.3 L144.2 77.5 L140.1 76.6 L136.1 75.7 L132.1 74.8 L128.3 73.9 L124.6 72.9 L120.9 71.9 L117.4 70.8 L114.1 69.7 L110.8 68.6 L107.7 67.4 L104.7 66.2 L101.8 64.9 L99.1 63.6 M496.9 37.2 L495.5 38.4 L493.9 39.5 L492.3 40.6 L490.5 41.6 L488.6 42.6 L486.6 43.6 L484.5 44.6 L482.2 45.6 L479.9 46.5 L477.4 47.4 L474.9 48.2 L472.2 49.1 L469.5 49.9 L466.7 50.7 L463.7 51.4 L460.7 52.2 L457.7 52.9 L454.5 53.6 L451.3 54.2 L447.9 54.9 L444.6 55.5 L441.1 56.1 L437.6 56.6 L434 57.2 L430.4 57.7 L426.7 58.2 L423 58.6 L419.2 59.1 L415.4 59.5 L411.5 59.9 L407.6 60.3 L403.6 60.7 L399.6 61 L395.5 61.3 L391.5 61.6 L387.3 61.9 L383.2 62.1 L379 62.4 L374.9 62.6 L370.6 62.8 L366.4 63 L362.2 63.1 L357.9 63.2 L353.6 63.3 L349.3 63.4 L345 63.5 L340.7 63.6 L336.4 63.6 L332.1 63.6 L332.1 63.6 L327.8 63.6 L323.5 63.6 L319.2 63.5 L314.9 63.4 L310.6 63.3 L306.3 63.2 L302 63.1 L297.8 63 L293.6 62.8 L289.3 62.6 L285.2 62.4 L281 62.1 L276.9 61.9 L272.7 61.6 L268.7 61.3 L264.6 61 L260.6 60.7 L256.6 60.3 L252.7 59.9 L248.8 59.5 L245 59.1 L241.2 58.6 L237.5 58.2 L233.8 57.7 L230.2 57.2 L226.6 56.6 L223.1 56.1 L219.6 55.5 L216.3 54.9 L212.9 54.2 L209.7 53.6 L206.5 52.9 L203.5 52.2 L200.5 51.4 L197.5 50.7 L194.7 49.9 L192 49.1 L189.3 48.2 L186.8 47.4 L184.3 46.5 L182 45.6 L179.7 44.6 L177.6 43.6 L175.6 42.6 L173.7 41.6 L171.9 40.6 L170.3 39.5 L168.7 38.4 L167.3 37.2 M417.4 20.7 L417 21.3 L416.5 22 L416 22.6 L415.3 23.3 L414.6 23.9 L413.8 24.5 L413 25.1 L412 25.7 L411 26.3 L409.9 26.8 L408.8 27.4 L407.6 27.9 L406.3 28.5 L405 29 L403.6 29.5 L402.1 30 L400.6 30.4 L399 30.9 L397.4 31.4 L395.7 31.8 L394 32.2 L392.2 32.6 L390.4 33 L388.5 33.4 L386.6 33.8 L384.6 34.1 L382.6 34.4 L380.6 34.8 L378.5 35.1 L376.4 35.4 L374.3 35.6 L372.1 35.9 L369.9 36.2 L367.7 36.4 L365.4 36.6 L363.1 36.8 L360.8 37 L358.5 37.2 L356.2 37.3 L353.8 37.5 L351.4 37.6 L349.1 37.7 L346.7 37.8 L344.2 37.9 L341.8 38 L339.4 38 L337 38.1 L334.5 38.1 L332.1 38.1 L332.1 38.1 L329.7 38.1 L327.2 38.1 L324.8 38 L322.4 38 L320 37.9 L317.5 37.8 L315.1 37.7 L312.8 37.6 L310.4 37.5 L308 37.3 L305.7 37.2 L303.4 37 L301.1 36.8 L298.8 36.6 L296.5 36.4 L294.3 36.2 L292.1 35.9 L289.9 35.6 L287.8 35.4 L285.7 35.1 L283.6 34.8 L281.6 34.4 L279.6 34.1 L277.6 33.8 L275.7 33.4 L273.8 33 L272 32.6 L270.2 32.2 L268.5 31.8 L266.8 31.4 L265.2 30.9 L263.6 30.4 L262.1 30 L260.6 29.5 L259.2 29 L257.9 28.5 L256.6 27.9 L255.4 27.4 L254.3 26.8 L253.2 26.3 L252.2 25.7 L251.2 25.1 L250.4 24.5 L249.6 23.9 L248.9 23.3 L248.2 22.6 L247.7 22 L247.2 21.3 L246.8 20.7" fill="none" stroke="#000" stroke-opacity="0.48" stroke-width="1.15"/>
</defs>
<g clip-path="url(#clip0)">
<g transform="translate(0 0)">
<g filter="url(#cm)">
<path d="M118.4 108.9 L136.3 110.1 L150.0 110.1 L158.9 110.1 L163.2 113.4 L167.0 120.0 L172.1 120.1 L176.6 115.7 L185.8 113.4 L194.7 117.9 L197.0 115.7 L212.6 113.4 L223.8 116.8 L232.8 120.1 L235.0 124.6 L232.8 131.3 L235.0 140.3 L241.7 144.7 L245.1 148.1 L246.2 155.9 L252.9 162.6 L257.4 169.4 L257.4 178.3 L255.1 182.8 L257.4 189.5 L259.6 196.2 L255.1 199.6 L250.7 199.6 L239.5 198.4 L235.0 202.9 L235.0 209.6 L228.3 214.1 L221.6 211.9 L212.6 213.0 L203.7 210.7 L201.5 207.4 L194.7 207.4 L190.3 209.6 L188.0 211.9 L185.8 216.3 L179.1 217.4 L174.6 211.9 L165.7 213.0 L158.9 211.9 L150.0 210.0 L145.3 211.9 L141.0 216.0 L144.2 221.9 L140.8 226.4 L118.4 228.6 L102.9 229.0 L93.8 229.8 L80.8 232.0 L73.7 235.0 L55.8 235.0 L51.3 229.8 L49.1 221.9 L42.4 216.3 L35.7 209.6 L33.4 198.4 L34.5 187.2 L41.3 182.8 L44.6 178.3 L56.9 176.1 L68.1 171.6 L72.6 164.9 L80.4 155.9 L87.1 147.0 L86.0 143.6 L91.6 139.1 L100.5 133.6 L106.1 131.3 L107.2 124.6 L110.6 115.7Z M322.1 37.7 L324.5 44.8 L328.0 53.1 L332.8 55.4 L334.0 60.2 L338.7 60.2 L341.0 49.5 L352.9 48.3 L360.0 45.6 L368.4 42.4 L381.0 44.5 L402.1 45.6 L412.6 44.5 L423.2 45.6 L440.0 45.6 L448.4 47.7 L461.0 49.8 L473.7 51.9 L482.1 53.0 L477.9 43.5 L473.7 37.2 L467.4 30.8 L478.0 32.5 L486.3 34.0 L492.6 36.4 L508.4 40.3 L526.8 46.9 L542.6 54.8 L555.8 61.4 L566.3 66.6 L576.8 74.5 L587.4 82.4 L595.3 90.3 L603.2 98.2 L604.5 102.2 L608.4 114.0 L611.1 124.0 L613.7 128.4 L616.3 141.6 L617.6 152.1 L616.3 162.6 L615.0 173.2 L618.9 178.4 L621.6 182.4 L618.9 185.0 L614.6 191.6 L605.0 201.0 L599.5 204.0 L576.8 204.2 L566.3 202.6 L555.8 203.4 L545.3 205.3 L537.4 206.1 L526.8 204.7 L518.9 202.6 L508.4 202.1 L492.6 202.1 L479.5 202.6 L466.3 203.4 L460.5 203.6 L451.1 202.4 L436.8 200.0 L425.0 201.2 L415.5 197.6 L410.8 190.5 L403.7 187.0 L394.2 185.8 L384.7 183.4 L372.9 184.6 L365.8 181.1 L358.7 174.0 L351.6 166.8 L344.5 159.7 L337.4 155.0 L330.3 149.1 L324.3 140.8 L323.2 131.3 L320.8 124.2 L314.9 120.7 L313.7 112.4 L309.1 106.4 L305.5 94.5 L303.2 85.1 L300.8 75.6 L299.6 68.5 L297.2 62.6 L299.6 55.4 L305.5 47.2 L312.6 42.4Z M28.2 191.7 L27.7 193.2 L26.4 194.2 L24.8 194.2 L23.5 193.2 L23.0 191.7 L23.5 190.2 L24.8 189.2 L26.4 189.2 L27.7 190.2Z M155.7 215.5 L155.3 216.8 L154.2 217.6 L152.8 217.6 L151.7 216.8 L151.3 215.5 L151.7 214.2 L152.8 213.4 L154.2 213.4 L155.3 214.2Z M157.0 226.4 L156.5 227.9 L155.3 228.8 L153.7 228.8 L152.5 227.9 L152.0 226.4 L152.5 224.9 L153.7 224.0 L155.3 224.0 L156.5 224.9Z M162.3 226.4 L161.8 227.9 L160.6 228.8 L159.0 228.8 L157.8 227.9 L157.3 226.4 L157.8 224.9 L159.0 224.0 L160.6 224.0 L161.8 224.9Z M251.3 206.0 L250.4 208.8 L248.0 210.6 L245.0 210.6 L242.6 208.8 L241.7 206.0 L242.6 203.2 L245.0 201.4 L248.0 201.4 L250.4 203.2Z M328.0 30.0 L327.4 31.8 L325.9 32.9 L324.1 32.9 L322.6 31.8 L322.0 30.0 L322.6 28.2 L324.1 27.1 L325.9 27.1 L327.4 28.2Z" fill="rgb(188,61,0)"/>
<g clip-path="url(#fp0)">
<path d="M214.0 100.0 L270.0 100.0 L270.0 176.0 L214.0 176.0Z" fill="rgb(170,59,0)"/>
<path d="M214.0 187.0 L270.0 187.0 L270.0 220.0 L214.0 220.0Z" fill="rgb(176,59,0)"/>
<path d="M72.0 141.0 L158.0 141.0 L158.0 176.0 L72.0 176.0Z" fill="rgb(199,61,0)"/>
<path d="M105.0 105.0 L158.0 105.0 L158.0 141.0 L105.0 141.0Z" fill="rgb(183,61,0)"/>
<path d="M158.0 187.0 L214.0 187.0 L214.0 220.0 L158.0 220.0Z" fill="rgb(186,61,0)"/>
<path d="M60.0 190.0 L115.0 190.0 L115.0 226.0 L60.0 226.0Z" fill="rgb(186,61,0)"/>
<path d="M120.0 186.0 L158.0 186.0 L158.0 214.0 L120.0 214.0Z" fill="rgb(200,61,0)"/>
<path d="M156.0 105.0 L167.0 105.0 L167.0 220.0 L156.0 220.0Z" fill="rgb(204,61,0)"/>
<path d="M28.0 170.0 L40.0 170.0 L40.0 236.0 L28.0 236.0Z" fill="rgb(208,61,0)"/>
<path d="M28.0 176.5 L262.0 176.5 L262.0 186.5 L28.0 186.5Z" fill="rgb(222,61,0)"/>
<path d="M290.0 20.0 L290.0 210.0 L640.0 210.0 L640.0 20.0Z" fill="rgb(174,61,0)"/>
<path d="M300.0 150.0 L420.0 150.0 L420.0 210.0 L300.0 210.0Z" fill="rgb(166,61,0)"/>
<path d="M290.0 20.0 L332.0 20.0 L332.0 150.0 L290.0 150.0Z" fill="rgb(164,59,0)"/>
<path d="M332.0 111.0 L420.0 111.0 L420.0 150.0 L332.0 150.0Z" fill="rgb(169,59,0)"/>
<path d="M420.0 110.0 L540.0 104.0 L540.0 140.0 L420.0 140.0Z" fill="rgb(196,61,0)"/>
<path d="M515.0 168.0 L560.0 168.0 L560.0 206.0 L515.0 206.0Z" fill="rgb(196,61,0)"/>
</g>
<path d="M118.4 108.9 L136.3 110.1 L150.0 110.1 L158.9 110.1 L163.2 113.4 L167.0 120.0 L172.1 120.1 L176.6 115.7 L185.8 113.4 L194.7 117.9 L197.0 115.7 L212.6 113.4 L223.8 116.8 L232.8 120.1 L235.0 124.6 L232.8 131.3 L235.0 140.3 L241.7 144.7 L245.1 148.1 L246.2 155.9 L252.9 162.6 L257.4 169.4 L257.4 178.3 L255.1 182.8 L257.4 189.5 L259.6 196.2 L255.1 199.6 L250.7 199.6 L239.5 198.4 L235.0 202.9 L235.0 209.6 L228.3 214.1 L221.6 211.9 L212.6 213.0 L203.7 210.7 L201.5 207.4 L194.7 207.4 L190.3 209.6 L188.0 211.9 L185.8 216.3 L179.1 217.4 L174.6 211.9 L165.7 213.0 L158.9 211.9 L150.0 210.0 L145.3 211.9 L141.0 216.0 L144.2 221.9 L140.8 226.4 L118.4 228.6 L102.9 229.0 L93.8 229.8 L80.8 232.0 L73.7 235.0 L55.8 235.0 L51.3 229.8 L49.1 221.9 L42.4 216.3 L35.7 209.6 L33.4 198.4 L34.5 187.2 L41.3 182.8 L44.6 178.3 L56.9 176.1 L68.1 171.6 L72.6 164.9 L80.4 155.9 L87.1 147.0 L86.0 143.6 L91.6 139.1 L100.5 133.6 L106.1 131.3 L107.2 124.6 L110.6 115.7Z" fill="none" stroke="rgb(212,128,0)" stroke-width="2.0" stroke-linejoin="round"/>
<path d="M444.0 23.8 L466.0 28.0 L478.0 32.5 L474.0 35.0 L462.0 31.0 L446.0 27.0Z" fill="rgb(176,230,0)" fill-opacity="0.75"/>
<path d="M376.0 16.5 L395.0 18.5 L412.0 21.5 L412.0 24.0 L395.0 21.5 L376.0 19.5Z" fill="rgb(170,230,0)" fill-opacity="0.80"/>
<path d="M148.0 42.5 L160.0 39.5 L176.0 35.0 L176.0 37.5 L160.0 42.0 L148.0 45.0Z" fill="rgb(128,204,0)" fill-opacity="0.60"/>
<path d="M192.0 29.3 L200.0 28.3 L200.0 30.5 L192.0 31.5Z" fill="rgb(128,204,0)" fill-opacity="0.60"/>
</g>
<g clip-path="url(#fp0)"><g filter="url(#cm2)"><path d="M332.1 111.3 L344.9 111.3 L357.7 111.2 L370.4 111.0 L383.1 110.8 L395.7 110.5 L408.3 110.2 L420.7 109.7 L433.0 109.2 L445.2 108.7 L457.2 108.0 L469.1 107.3 L480.8 106.5 L492.2 105.6 L503.5 104.6 L514.5 103.6 L525.2 102.4 L535.6 101.1 L545.8 99.7 L555.6 98.2 L565.0 96.6 L574.1 94.8 L582.7 92.9 L590.9 90.8 L598.7 88.6 L640.0 78.6 L640.0 10.0 L332.1 10.0Z" fill="rgb(174,140,0)" fill-opacity="1.00"/></g></g>
<g clip-path="url(#fp0)"><g filter="url(#cm2)"><path d="M384.5 110.8 L395.0 110.5 L405.4 110.3 L415.7 109.9 L426.0 109.5 L436.2 109.1 L446.2 108.6 L456.2 108.1 L466.1 107.5 L475.8 106.9 L485.4 106.2 L494.8 105.4 L504.1 104.6 L513.2 103.7 L522.2 102.7 L530.9 101.7 L539.4 100.6 L547.8 99.4 L555.8 98.2 L563.7 96.8 L571.3 95.4 L578.6 93.9 L585.6 92.2 L592.3 90.5 L598.7 88.6 L640.0 78.6 L640.0 10.0 L384.5 10.0Z" fill="rgb(182,140,0)" fill-opacity="1.00"/></g></g>
<path d="M486.3 34.0 L492.6 36.4 L508.4 40.3 L526.8 46.9 L542.6 54.8 L555.8 61.4 L566.3 66.6 L576.8 74.5 L587.4 82.4 L595.3 90.3 L603.2 98.2 L604.5 102.2 L608.4 114.0" fill="none" stroke="#fff" stroke-opacity="0.45" stroke-width="7" stroke-linejoin="round"/>
<path d="M115.1 199.6 L120.7 198.4 L127.4 202.9 L131.9 209.6 L129.6 211.9 L122.9 207.4 L116.2 204.0Z" fill="#fff"/>
<use href="#grid"/>
</g></g>
<rect x="1.5" y="14.5" width="663.0" height="220.0" fill="none" stroke="#3c3c3c" stroke-width="1.25"/>
<text x="251.6" y="9" font-size="11" textLength="161.2" lengthAdjust="spacingAndGlyphs">DR6 + DR7 vs Pan-STARRS PS1</text>
<text x="643.9" y="247.8" text-anchor="middle" font-size="9.6">90</text>
<text x="65.6" y="247.8" text-anchor="middle" font-size="9.6">60</text>
<text x="114.7" y="247.8" text-anchor="middle" font-size="9.6">30</text>
<text x="166.7" y="247.8" text-anchor="middle" font-size="9.6">0</text>
<text x="220.7" y="247.8" text-anchor="middle" font-size="9.6">330</text>
<text x="276.1" y="247.8" text-anchor="middle" font-size="9.6">300</text>
<text x="332.1" y="247.8" text-anchor="middle" font-size="9.6">270</text>
<text x="388.1" y="247.8" text-anchor="middle" font-size="9.6">240</text>
<text x="443.5" y="247.8" text-anchor="middle" font-size="9.6">210</text>
<text x="497.5" y="247.8" text-anchor="middle" font-size="9.6">180</text>
<text x="549.5" y="247.8" text-anchor="middle" font-size="9.6">150</text>
<text x="598.6" y="247.8" text-anchor="middle" font-size="9.6">120</text>
<text x="20.3" y="247.8" text-anchor="middle" font-size="9.6">90</text>
<path d="M643.9 234.5 v3.5 M65.6 234.5 v3.5 M114.7 234.5 v3.5 M166.7 234.5 v3.5 M220.7 234.5 v3.5 M276.1 234.5 v3.5 M332.1 234.5 v3.5 M388.1 234.5 v3.5 M443.5 234.5 v3.5 M497.5 234.5 v3.5 M549.5 234.5 v3.5 M598.6 234.5 v3.5 M20.3 234.5 v3.5" stroke="#333" stroke-width="0.9"/>
<text x="332.6" y="260.1" text-anchor="middle" font-size="9.6">RA (deg)</text>
<text x="308.9" y="47" text-anchor="end" font-size="9.2">+75</text>
<text x="294.1" y="72.8" text-anchor="end" font-size="9.2">+60</text>
<text x="282.9" y="100.4" text-anchor="end" font-size="9.2">+45</text>
<text x="274.5" y="130" text-anchor="end" font-size="9.2">+30</text>
<text x="277.8" y="159.8" text-anchor="start" font-size="9.2">+15</text>
<text x="276" y="190.9" text-anchor="start" font-size="9.2">+0</text>
<text x="277.8" y="221.9" text-anchor="start" font-size="9.2">−15</text>
<rect x="705.5" y="224" width="11.5" height="10.8" fill="#67001f"/>
<rect x="705.5" y="213.5" width="11.5" height="10.8" fill="#8c0c25"/>
<rect x="705.5" y="203.1" width="11.5" height="10.8" fill="#b2182b"/>
<rect x="705.5" y="192.6" width="11.5" height="10.8" fill="#c43c3c"/>
<rect x="705.5" y="182.1" width="11.5" height="10.8" fill="#d6604d"/>
<rect x="705.5" y="171.6" width="11.5" height="10.8" fill="#e58267"/>
<rect x="705.5" y="161.2" width="11.5" height="10.8" fill="#f4a582"/>
<rect x="705.5" y="150.7" width="11.5" height="10.8" fill="#f9c0a4"/>
<rect x="705.5" y="140.2" width="11.5" height="10.8" fill="#fddbc7"/>
<rect x="705.5" y="129.7" width="11.5" height="10.8" fill="#fae9df"/>
<rect x="705.5" y="119.3" width="11.5" height="10.8" fill="#f7f7f7"/>
<rect x="705.5" y="108.8" width="11.5" height="10.8" fill="#e4eef4"/>
<rect x="705.5" y="98.3" width="11.5" height="10.8" fill="#d1e5f0"/>
<rect x="705.5" y="87.8" width="11.5" height="10.8" fill="#b2d5e7"/>
<rect x="705.5" y="77.4" width="11.5" height="10.8" fill="#92c5de"/>
<rect x="705.5" y="66.9" width="11.5" height="10.8" fill="#6bacd0"/>
<rect x="705.5" y="56.4" width="11.5" height="10.8" fill="#4393c3"/>
<rect x="705.5" y="45.9" width="11.5" height="10.8" fill="#327cb8"/>
<rect x="705.5" y="35.5" width="11.5" height="10.8" fill="#2166ac"/>
<rect x="705.5" y="25" width="11.5" height="10.8" fill="#134b86"/>
<rect x="705.5" y="14.5" width="11.5" height="10.8" fill="#053061"/>
<rect x="705.5" y="14.5" width="11.5" height="220" fill="none" stroke="#333" stroke-width="0.8"/>
<text x="723.2" y="17.8" font-size="9.6">10.0</text>
<text x="723.2" y="45.3" font-size="9.6">7.5</text>
<text x="723.2" y="72.8" font-size="9.6">5.0</text>
<text x="723.2" y="100.3" font-size="9.6">2.5</text>
<text x="723.2" y="127.8" font-size="9.6">0.0</text>
<text x="723.2" y="155.3" font-size="9.6">−2.5</text>
<text x="723.2" y="182.8" font-size="9.6">−5.0</text>
<text x="723.2" y="210.3" font-size="9.6">−7.5</text>
<text x="723.2" y="237.8" font-size="9.6">−10.0</text>
<path d="M717.0 14.5 h3 M717.0 42 h3 M717.0 69.5 h3 M717.0 97 h3 M717.0 124.5 h3 M717.0 152 h3 M717.0 179.5 h3 M717.0 207 h3 M717.0 234.5 h3" stroke="#333" stroke-width="0.9"/>
<text transform="translate(758.6 124.5) rotate(-90)" text-anchor="middle" font-size="9.6">g offsets (milli-mag)</text>
<g clip-path="url(#clip1)">
<g transform="translate(0 267)">
<g filter="url(#cm)">
<path d="M118.4 108.9 L131.9 112.3 L149.8 111.2 L163.2 112.3 L167.7 115.7 L172.1 122.4 L176.6 120.1 L181.3 117.9 L203.7 116.8 L221.6 116.8 L232.8 120.1 L238.4 131.3 L235.0 136.9 L239.5 144.7 L244.0 149.2 L246.2 155.9 L255.1 159.3 L257.4 167.1 L259.6 176.1 L261.9 180.5 L261.9 187.2 L259.6 194.0 L257.4 198.4 L250.7 198.4 L246.2 201.8 L241.7 207.4 L232.8 209.6 L226.1 213.0 L217.1 213.0 L210.4 211.9 L203.7 210.7 L194.7 211.9 L185.8 214.1 L176.8 213.0 L167.9 213.0 L158.9 214.1 L150.0 215.2 L141.9 217.4 L143.0 224.2 L136.3 228.6 L120.7 229.8 L98.3 230.9 L75.9 232.0 L60.0 235.0 L56.9 232.0 L51.3 225.3 L44.6 218.6 L40.1 211.9 L33.4 202.9 L31.2 194.0 L32.3 185.0 L35.7 180.5 L39.0 174.9 L44.6 176.1 L53.6 177.2 L64.7 173.8 L73.7 167.1 L78.2 164.9 L80.4 158.2 L87.1 151.5 L91.6 144.7 L92.7 141.4 L98.3 135.8 L102.8 129.1 L109.5 124.6 L114.0 115.7Z M303.2 47.2 L350.0 46.6 L362.6 43.4 L381.6 49.7 L413.0 56.0 L444.7 53.0 L476.0 47.0 L508.0 54.5 L539.5 62.4 L571.0 73.4 L579.5 77.2 L590.0 85.0 L597.9 93.0 L605.8 103.5 L608.4 114.0 L611.1 120.5 L615.0 133.7 L617.6 146.8 L618.9 160.0 L618.9 170.5 L621.6 181.0 L618.9 186.3 L613.7 194.2 L611.1 200.8 L597.9 203.4 L582.1 204.7 L563.7 203.4 L545.3 204.7 L529.5 204.7 L513.7 203.4 L492.6 202.6 L471.6 202.6 L455.8 202.6 L440.0 200.8 L432.1 201.2 L417.9 201.2 L409.6 197.6 L410.8 190.5 L401.3 185.8 L391.8 183.4 L380.0 184.6 L368.2 183.4 L361.1 178.7 L356.3 171.6 L349.2 164.5 L339.7 157.4 L331.4 151.4 L327.9 143.2 L324.3 133.7 L319.6 124.2 L316.1 117.1 L312.5 111.2 L307.9 104.0 L303.2 92.2 L302.0 82.7 L300.8 73.2 L294.9 70.8 L297.2 63.7 L298.4 56.6Z M26.7 192.8 L26.3 194.1 L25.2 194.9 L23.8 194.9 L22.7 194.1 L22.3 192.8 L22.7 191.5 L23.8 190.7 L25.2 190.7 L26.3 191.5Z M80.7 148.1 L80.2 149.6 L79.0 150.5 L77.4 150.5 L76.2 149.6 L75.7 148.1 L76.2 146.6 L77.4 145.7 L79.0 145.7 L80.2 146.6Z M91.6 135.8 L91.2 137.1 L90.1 137.9 L88.7 137.9 L87.6 137.1 L87.2 135.8 L87.6 134.5 L88.7 133.7 L90.1 133.7 L91.2 134.5Z M158.5 226.5 L157.9 228.3 L156.4 229.4 L154.6 229.4 L153.1 228.3 L152.5 226.5 L153.1 224.7 L154.6 223.6 L156.4 223.6 L157.9 224.7Z M181.0 221.9 L180.6 223.2 L179.5 224.0 L178.1 224.0 L177.0 223.2 L176.6 221.9 L177.0 220.6 L178.1 219.8 L179.5 219.8 L180.6 220.6Z M250.6 213.0 L250.2 214.3 L249.1 215.1 L247.7 215.1 L246.6 214.3 L246.2 213.0 L246.6 211.7 L247.7 210.9 L249.1 210.9 L250.2 211.7Z M255.4 207.0 L254.9 208.5 L253.7 209.4 L252.1 209.4 L250.9 208.5 L250.4 207.0 L250.9 205.5 L252.1 204.6 L253.7 204.6 L254.9 205.5Z M175.5 218.0 L175.0 219.5 L173.8 220.4 L172.2 220.4 L171.0 219.5 L170.5 218.0 L171.0 216.5 L172.2 215.6 L173.8 215.6 L175.0 216.5Z M192.5 217.4 L192.1 218.7 L191.0 219.5 L189.6 219.5 L188.5 218.7 L188.1 217.4 L188.5 216.1 L189.6 215.3 L191.0 215.3 L192.1 216.1Z M206.2 220.8 L205.7 222.3 L204.5 223.2 L202.9 223.2 L201.7 222.3 L201.2 220.8 L201.7 219.3 L202.9 218.4 L204.5 218.4 L205.7 219.3Z M211.5 217.4 L211.1 218.7 L210.0 219.5 L208.6 219.5 L207.5 218.7 L207.1 217.4 L207.5 216.1 L208.6 215.3 L210.0 215.3 L211.1 216.1Z M618.3 121.8 L617.9 123.0 L616.9 123.7 L615.7 123.7 L614.7 123.0 L614.3 121.8 L614.7 120.6 L615.7 119.9 L616.9 119.9 L617.9 120.6Z" fill="rgb(162,56,0)"/>
<g clip-path="url(#fp1)">
<path d="M28.0 170.0 L70.0 170.0 L70.0 236.0 L28.0 236.0Z" fill="rgb(169,59,0)"/>
<path d="M28.0 177.0 L265.0 177.0 L265.0 186.0 L28.0 186.0Z" fill="rgb(186,59,0)"/>
<path d="M150.0 177.5 L265.0 177.5 L265.0 185.5 L150.0 185.5Z" fill="rgb(197,59,0)"/>
<path d="M290.0 20.0 L290.0 210.0 L640.0 210.0 L640.0 20.0Z" fill="rgb(158,59,0)"/>
<path d="M424.0 108.0 L500.0 104.0 L560.0 98.0 L560.0 128.0 L500.0 134.0 L424.0 136.0Z" fill="rgb(178,61,0)"/>
<path d="M560.0 100.0 L625.0 100.0 L625.0 205.0 L560.0 205.0Z" fill="rgb(164,59,0)"/>
</g>
<path d="M118.4 108.9 L131.9 112.3 L149.8 111.2 L163.2 112.3 L167.7 115.7 L172.1 122.4 L176.6 120.1 L181.3 117.9 L203.7 116.8 L221.6 116.8 L232.8 120.1 L238.4 131.3 L235.0 136.9 L239.5 144.7 L244.0 149.2 L246.2 155.9 L255.1 159.3 L257.4 167.1 L259.6 176.1 L261.9 180.5 L261.9 187.2 L259.6 194.0 L257.4 198.4 L250.7 198.4 L246.2 201.8 L241.7 207.4 L232.8 209.6 L226.1 213.0 L217.1 213.0 L210.4 211.9 L203.7 210.7 L194.7 211.9 L185.8 214.1 L176.8 213.0 L167.9 213.0 L158.9 214.1 L150.0 215.2 L141.9 217.4 L143.0 224.2 L136.3 228.6 L120.7 229.8 L98.3 230.9 L75.9 232.0 L60.0 235.0 L56.9 232.0 L51.3 225.3 L44.6 218.6 L40.1 211.9 L33.4 202.9 L31.2 194.0 L32.3 185.0 L35.7 180.5 L39.0 174.9 L44.6 176.1 L53.6 177.2 L64.7 173.8 L73.7 167.1 L78.2 164.9 L80.4 158.2 L87.1 151.5 L91.6 144.7 L92.7 141.4 L98.3 135.8 L102.8 129.1 L109.5 124.6 L114.0 115.7Z M303.2 47.2 L350.0 46.6 L362.6 43.4 L381.6 49.7 L413.0 56.0 L444.7 53.0 L476.0 47.0 L508.0 54.5 L539.5 62.4 L571.0 73.4 L579.5 77.2 L590.0 85.0 L597.9 93.0 L605.8 103.5 L608.4 114.0 L611.1 120.5 L615.0 133.7 L617.6 146.8 L618.9 160.0 L618.9 170.5 L621.6 181.0 L618.9 186.3 L613.7 194.2 L611.1 200.8 L597.9 203.4 L582.1 204.7 L563.7 203.4 L545.3 204.7 L529.5 204.7 L513.7 203.4 L492.6 202.6 L471.6 202.6 L455.8 202.6 L440.0 200.8 L432.1 201.2 L417.9 201.2 L409.6 197.6 L410.8 190.5 L401.3 185.8 L391.8 183.4 L380.0 184.6 L368.2 183.4 L361.1 178.7 L356.3 171.6 L349.2 164.5 L339.7 157.4 L331.4 151.4 L327.9 143.2 L324.3 133.7 L319.6 124.2 L316.1 117.1 L312.5 111.2 L307.9 104.0 L303.2 92.2 L302.0 82.7 L300.8 73.2 L294.9 70.8 L297.2 63.7 L298.4 56.6Z" fill="none" stroke="rgb(182,178,0)" stroke-width="2.0" stroke-linejoin="round"/>
<path d="M157.0 38.5 L168.0 35.5 L168.0 38.0 L157.0 41.0Z" fill="rgb(140,230,0)" fill-opacity="0.60"/>
<path d="M210.0 30.5 L225.0 28.5 L225.0 31.0 L210.0 33.0Z" fill="rgb(140,230,0)" fill-opacity="0.60"/>
</g>
<g clip-path="url(#fp1)"><g filter="url(#cm2)"><path d="M335.0 111.3 L344.9 111.3 L357.7 111.2 L370.4 111.0 L383.1 110.8 L395.7 110.5 L408.3 110.2 L420.7 109.7 L433.0 109.2 L445.2 108.7 L457.2 108.0 L469.1 107.3 L480.8 106.5 L492.2 105.6 L503.5 104.6 L514.5 103.6 L525.2 102.4 L535.6 101.1 L545.8 99.7 L555.6 98.2 L565.0 96.6 L574.1 94.8 L582.7 92.9 L590.9 90.8 L598.7 88.6 L640.0 78.6 L640.0 10.0 L335.0 10.0Z" fill="rgb(140,158,0)" fill-opacity="1.00"/></g></g>
<g clip-path="url(#fp1)"><g filter="url(#cm2)"><path d="M296.0 44.0 L364.0 42.0 L366.0 58.0 L296.0 58.0Z" fill="rgb(158,230,0)" fill-opacity="1.00"/></g></g>
<g clip-path="url(#fp1)"><g filter="url(#cm2)"><path d="M371.0 15.5 L400.0 19.0 L436.0 24.0 L436.0 29.0 L400.0 26.0 L374.0 22.0Z" fill="rgb(142,230,0)" fill-opacity="0.85"/></g></g>
<g clip-path="url(#fp1)"><g filter="url(#cm2)"><path d="M443.0 23.5 L480.0 33.0 L527.0 46.0 L571.0 68.0 L568.0 74.0 L527.0 53.0 L480.0 40.0 L445.0 30.0Z" fill="rgb(142,230,0)" fill-opacity="0.85"/></g></g>
<g clip-path="url(#fp1)"><g filter="url(#cm2)"><path d="M389.0 31.0 L420.0 40.0 L455.0 49.0 L455.0 56.0 L420.0 48.0 L391.0 38.0Z" fill="rgb(142,230,0)" fill-opacity="0.85"/></g></g>
<path d="M571.0 73.4 L579.5 77.2 L590.0 85.0 L597.9 93.0 L605.8 103.5 L608.4 114.0" fill="none" stroke="#fff" stroke-opacity="0.45" stroke-width="7" stroke-linejoin="round"/>
<use href="#grid"/>
</g></g>
<rect x="1.5" y="281.5" width="663.0" height="220.0" fill="none" stroke="#3c3c3c" stroke-width="1.25"/>
<text x="251.6" y="276" font-size="11" textLength="161.2" lengthAdjust="spacingAndGlyphs">DR6 + DR7 vs Pan-STARRS PS1</text>
<text x="643.9" y="514.8" text-anchor="middle" font-size="9.6">90</text>
<text x="65.6" y="514.8" text-anchor="middle" font-size="9.6">60</text>
<text x="114.7" y="514.8" text-anchor="middle" font-size="9.6">30</text>
<text x="166.7" y="514.8" text-anchor="middle" font-size="9.6">0</text>
<text x="220.7" y="514.8" text-anchor="middle" font-size="9.6">330</text>
<text x="276.1" y="514.8" text-anchor="middle" font-size="9.6">300</text>
<text x="332.1" y="514.8" text-anchor="middle" font-size="9.6">270</text>
<text x="388.1" y="514.8" text-anchor="middle" font-size="9.6">240</text>
<text x="443.5" y="514.8" text-anchor="middle" font-size="9.6">210</text>
<text x="497.5" y="514.8" text-anchor="middle" font-size="9.6">180</text>
<text x="549.5" y="514.8" text-anchor="middle" font-size="9.6">150</text>
<text x="598.6" y="514.8" text-anchor="middle" font-size="9.6">120</text>
<text x="20.3" y="514.8" text-anchor="middle" font-size="9.6">90</text>
<path d="M643.9 501.5 v3.5 M65.6 501.5 v3.5 M114.7 501.5 v3.5 M166.7 501.5 v3.5 M220.7 501.5 v3.5 M276.1 501.5 v3.5 M332.1 501.5 v3.5 M388.1 501.5 v3.5 M443.5 501.5 v3.5 M497.5 501.5 v3.5 M549.5 501.5 v3.5 M598.6 501.5 v3.5 M20.3 501.5 v3.5" stroke="#333" stroke-width="0.9"/>
<text x="332.6" y="527.1" text-anchor="middle" font-size="9.6">RA (deg)</text>
<text x="308.9" y="314" text-anchor="end" font-size="9.2">+75</text>
<text x="294.1" y="339.8" text-anchor="end" font-size="9.2">+60</text>
<text x="282.9" y="367.4" text-anchor="end" font-size="9.2">+45</text>
<text x="274.5" y="397" text-anchor="end" font-size="9.2">+30</text>
<text x="277.8" y="426.8" text-anchor="start" font-size="9.2">+15</text>
<text x="276" y="457.9" text-anchor="start" font-size="9.2">+0</text>
<text x="277.8" y="488.9" text-anchor="start" font-size="9.2">−15</text>
<rect x="705.5" y="491" width="11.5" height="10.8" fill="#67001f"/>
<rect x="705.5" y="480.5" width="11.5" height="10.8" fill="#8c0c25"/>
<rect x="705.5" y="470.1" width="11.5" height="10.8" fill="#b2182b"/>
<rect x="705.5" y="459.6" width="11.5" height="10.8" fill="#c43c3c"/>
<rect x="705.5" y="449.1" width="11.5" height="10.8" fill="#d6604d"/>
<rect x="705.5" y="438.6" width="11.5" height="10.8" fill="#e58267"/>
<rect x="705.5" y="428.2" width="11.5" height="10.8" fill="#f4a582"/>
<rect x="705.5" y="417.7" width="11.5" height="10.8" fill="#f9c0a4"/>
<rect x="705.5" y="407.2" width="11.5" height="10.8" fill="#fddbc7"/>
<rect x="705.5" y="396.7" width="11.5" height="10.8" fill="#fae9df"/>
<rect x="705.5" y="386.3" width="11.5" height="10.8" fill="#f7f7f7"/>
<rect x="705.5" y="375.8" width="11.5" height="10.8" fill="#e4eef4"/>
<rect x="705.5" y="365.3" width="11.5" height="10.8" fill="#d1e5f0"/>
<rect x="705.5" y="354.8" width="11.5" height="10.8" fill="#b2d5e7"/>
<rect x="705.5" y="344.4" width="11.5" height="10.8" fill="#92c5de"/>
<rect x="705.5" y="333.9" width="11.5" height="10.8" fill="#6bacd0"/>
<rect x="705.5" y="323.4" width="11.5" height="10.8" fill="#4393c3"/>
<rect x="705.5" y="312.9" width="11.5" height="10.8" fill="#327cb8"/>
<rect x="705.5" y="302.5" width="11.5" height="10.8" fill="#2166ac"/>
<rect x="705.5" y="292" width="11.5" height="10.8" fill="#134b86"/>
<rect x="705.5" y="281.5" width="11.5" height="10.8" fill="#053061"/>
<rect x="705.5" y="281.5" width="11.5" height="220" fill="none" stroke="#333" stroke-width="0.8"/>
<text x="723.2" y="284.8" font-size="9.6">8</text>
<text x="723.2" y="312.3" font-size="9.6">6</text>
<text x="723.2" y="339.8" font-size="9.6">4</text>
<text x="723.2" y="367.3" font-size="9.6">2</text>
<text x="723.2" y="394.8" font-size="9.6">0</text>
<text x="723.2" y="422.3" font-size="9.6">−2</text>
<text x="723.2" y="449.8" font-size="9.6">−4</text>
<text x="723.2" y="477.3" font-size="9.6">−6</text>
<text x="723.2" y="504.8" font-size="9.6">−8</text>
<path d="M717.0 281.5 h3 M717.0 309 h3 M717.0 336.5 h3 M717.0 364 h3 M717.0 391.5 h3 M717.0 419 h3 M717.0 446.5 h3 M717.0 474 h3 M717.0 501.5 h3" stroke="#333" stroke-width="0.9"/>
<text transform="translate(758.6 391.5) rotate(-90)" text-anchor="middle" font-size="9.6">r offsets (milli-mag)</text>
<g clip-path="url(#clip2)">
<g transform="translate(0 534)">
<g filter="url(#cm)">
<path d="M112.0 118.0 L118.0 114.0 L122.0 111.5 L135.0 110.5 L150.0 109.5 L153.0 106.0 L160.0 103.4 L168.0 104.0 L172.0 107.6 L190.0 108.5 L204.0 109.7 L218.0 113.0 L231.0 117.0 L237.2 122.4 L235.0 131.3 L237.2 140.3 L241.7 144.7 L245.1 151.5 L252.9 152.6 L259.6 158.2 L261.9 167.1 L264.1 173.8 L261.9 182.8 L265.2 189.5 L266.3 191.7 L261.9 196.2 L264.1 202.9 L257.4 205.1 L246.2 202.9 L237.2 209.6 L232.8 215.2 L228.3 215.2 L226.1 209.6 L221.6 205.1 L214.9 202.9 L212.6 214.1 L205.9 209.6 L194.7 207.4 L183.6 209.6 L174.0 214.0 L164.0 216.0 L161.6 220.8 L156.8 226.7 L142.6 229.1 L128.4 230.3 L104.7 231.5 L81.1 232.6 L66.8 235.0 L62.1 232.6 L55.0 229.1 L47.9 223.2 L38.4 218.4 L31.3 213.7 L26.6 204.2 L24.2 194.7 L24.2 182.9 L26.6 179.3 L33.7 179.3 L45.5 178.2 L57.4 175.8 L69.2 171.1 L74.0 165.1 L78.7 160.4 L82.2 152.1 L85.8 145.0 L89.3 140.3 L90.5 133.2 L97.0 128.0 L105.0 123.0Z M324.5 27.0 L331.6 23.5 L338.7 24.7 L345.8 28.2 L348.2 21.1 L355.3 18.7 L369.5 16.8 L383.7 17.6 L402.6 18.7 L421.6 21.1 L435.8 23.5 L450.0 25.8 L466.3 29.8 L492.6 37.7 L518.9 46.9 L545.3 56.1 L563.7 64.0 L579.5 74.5 L590.0 82.4 L597.9 93.0 L605.8 103.5 L611.1 112.0 L616.3 120.5 L619.0 133.7 L621.6 149.5 L624.2 165.3 L621.6 178.4 L619.0 189.0 L613.7 196.8 L608.4 202.1 L584.7 203.4 L563.7 204.2 L545.3 204.7 L524.2 203.4 L505.8 202.6 L479.5 202.1 L455.8 202.6 L440.0 200.8 L428.2 200.5 L414.4 195.9 L409.8 188.1 L382.1 186.7 L363.7 179.8 L359.1 166.0 L345.3 156.8 L331.5 147.6 L324.5 133.8 L315.3 119.9 L312.6 108.7 L307.9 99.3 L305.5 89.8 L300.8 75.6 L299.6 68.5 L298.4 59.0 L300.8 51.9 L303.2 44.8 L310.3 38.9 L317.4 33.0Z M250.9 125.7 L250.4 127.2 L249.2 128.1 L247.6 128.1 L246.4 127.2 L245.9 125.7 L246.4 124.2 L247.6 123.3 L249.2 123.3 L250.4 124.2Z M97.5 97.8 L97.2 98.9 L96.3 99.5 L95.1 99.5 L94.2 98.9 L93.9 97.8 L94.2 96.7 L95.1 96.1 L96.3 96.1 L97.2 96.7Z" fill="rgb(155,51,0)"/>
<g clip-path="url(#fp2)">
<path d="M24.0 177.0 L262.0 177.0 L262.0 187.0 L24.0 187.0Z" fill="rgb(188,59,0)"/>
<path d="M78.0 185.0 L93.0 185.0 L93.0 199.0 L78.0 199.0Z" fill="rgb(188,59,0)"/>
<path d="M290.0 14.0 L290.0 210.0 L640.0 210.0 L640.0 14.0Z" fill="rgb(157,51,0)"/>
<path d="M290.0 14.0 L332.0 14.0 L332.0 150.0 L290.0 150.0Z" fill="rgb(154,51,0)"/>
<path d="M543.0 118.0 L549.0 118.0 L549.0 152.0 L543.0 152.0Z" fill="rgb(191,61,0)"/>
</g>
<path d="M112.0 118.0 L118.0 114.0 L122.0 111.5 L135.0 110.5 L150.0 109.5 L153.0 106.0 L160.0 103.4 L168.0 104.0 L172.0 107.6 L190.0 108.5 L204.0 109.7 L218.0 113.0 L231.0 117.0 L237.2 122.4 L235.0 131.3 L237.2 140.3 L241.7 144.7 L245.1 151.5 L252.9 152.6 L259.6 158.2 L261.9 167.1 L264.1 173.8 L261.9 182.8 L265.2 189.5 L266.3 191.7 L261.9 196.2 L264.1 202.9 L257.4 205.1 L246.2 202.9 L237.2 209.6 L232.8 215.2 L228.3 215.2 L226.1 209.6 L221.6 205.1 L214.9 202.9 L212.6 214.1 L205.9 209.6 L194.7 207.4 L183.6 209.6 L174.0 214.0 L164.0 216.0 L161.6 220.8 L156.8 226.7 L142.6 229.1 L128.4 230.3 L104.7 231.5 L81.1 232.6 L66.8 235.0 L62.1 232.6 L55.0 229.1 L47.9 223.2 L38.4 218.4 L31.3 213.7 L26.6 204.2 L24.2 194.7 L24.2 182.9 L26.6 179.3 L33.7 179.3 L45.5 178.2 L57.4 175.8 L69.2 171.1 L74.0 165.1 L78.7 160.4 L82.2 152.1 L85.8 145.0 L89.3 140.3 L90.5 133.2 L97.0 128.0 L105.0 123.0Z M324.5 27.0 L331.6 23.5 L338.7 24.7 L345.8 28.2 L348.2 21.1 L355.3 18.7 L369.5 16.8 L383.7 17.6 L402.6 18.7 L421.6 21.1 L435.8 23.5 L450.0 25.8 L466.3 29.8 L492.6 37.7 L518.9 46.9 L545.3 56.1 L563.7 64.0 L579.5 74.5 L590.0 82.4 L597.9 93.0 L605.8 103.5 L611.1 112.0 L616.3 120.5 L619.0 133.7 L621.6 149.5 L624.2 165.3 L621.6 178.4 L619.0 189.0 L613.7 196.8 L608.4 202.1 L584.7 203.4 L563.7 204.2 L545.3 204.7 L524.2 203.4 L505.8 202.6 L479.5 202.1 L455.8 202.6 L440.0 200.8 L428.2 200.5 L414.4 195.9 L409.8 188.1 L382.1 186.7 L363.7 179.8 L359.1 166.0 L345.3 156.8 L331.5 147.6 L324.5 133.8 L315.3 119.9 L312.6 108.7 L307.9 99.3 L305.5 89.8 L300.8 75.6 L299.6 68.5 L298.4 59.0 L300.8 51.9 L303.2 44.8 L310.3 38.9 L317.4 33.0Z" fill="none" stroke="rgb(176,178,0)" stroke-width="2.0" stroke-linejoin="round"/>
<path d="M148.0 42.5 L160.0 39.5 L174.0 35.0 L174.0 37.5 L160.0 42.0 L148.0 45.0Z" fill="rgb(152,230,0)" fill-opacity="0.60"/>
</g>
<g clip-path="url(#fp2)"><g filter="url(#cm2)"><path d="M332.1 111.3 L344.9 111.3 L357.7 111.2 L370.4 111.0 L383.1 110.8 L395.7 110.5 L408.3 110.2 L420.7 109.7 L433.0 109.2 L445.2 108.7 L457.2 108.0 L469.1 107.3 L480.8 106.5 L492.2 105.6 L503.5 104.6 L514.5 103.6 L525.2 102.4 L535.6 101.1 L545.8 99.7 L555.6 98.2 L565.0 96.6 L574.1 94.8 L582.7 92.9 L590.9 90.8 L598.7 88.6 L640.0 78.6 L640.0 10.0 L332.1 10.0Z" fill="rgb(110,128,0)" fill-opacity="1.00"/></g></g>
<g clip-path="url(#fp2)"><g filter="url(#cm2)"><path d="M332.0 10.0 L640.0 10.0 L640.0 60.0 L560.0 75.0 L332.0 75.0Z" fill="rgb(98,128,0)" fill-opacity="1.00"/></g></g>
<g clip-path="url(#fp2)"><g filter="url(#cm2)"><path d="M330.0 14.0 L470.0 14.0 L520.0 30.0 L600.0 60.0 L600.0 40.0 L330.0 40.0Z" fill="rgb(121,230,0)" fill-opacity="1.00"/></g></g>
<g clip-path="url(#fp2)"><g filter="url(#cm2)"><path d="M330.0 14.0 L420.0 14.0 L420.0 42.0 L380.0 45.0 L330.0 45.0Z" fill="rgb(149,230,0)" fill-opacity="1.00"/></g></g>
<use href="#grid"/>
</g></g>
<rect x="1.5" y="548.5" width="663.0" height="220.0" fill="none" stroke="#3c3c3c" stroke-width="1.25"/>
<text x="251.6" y="543" font-size="11" textLength="161.2" lengthAdjust="spacingAndGlyphs">DR6 + DR7 vs Pan-STARRS PS1</text>
<text x="643.9" y="781.8" text-anchor="middle" font-size="9.6">90</text>
<text x="65.6" y="781.8" text-anchor="middle" font-size="9.6">60</text>
<text x="114.7" y="781.8" text-anchor="middle" font-size="9.6">30</text>
<text x="166.7" y="781.8" text-anchor="middle" font-size="9.6">0</text>
<text x="220.7" y="781.8" text-anchor="middle" font-size="9.6">330</text>
<text x="276.1" y="781.8" text-anchor="middle" font-size="9.6">300</text>
<text x="332.1" y="781.8" text-anchor="middle" font-size="9.6">270</text>
<text x="388.1" y="781.8" text-anchor="middle" font-size="9.6">240</text>
<text x="443.5" y="781.8" text-anchor="middle" font-size="9.6">210</text>
<text x="497.5" y="781.8" text-anchor="middle" font-size="9.6">180</text>
<text x="549.5" y="781.8" text-anchor="middle" font-size="9.6">150</text>
<text x="598.6" y="781.8" text-anchor="middle" font-size="9.6">120</text>
<text x="20.3" y="781.8" text-anchor="middle" font-size="9.6">90</text>
<path d="M643.9 768.5 v3.5 M65.6 768.5 v3.5 M114.7 768.5 v3.5 M166.7 768.5 v3.5 M220.7 768.5 v3.5 M276.1 768.5 v3.5 M332.1 768.5 v3.5 M388.1 768.5 v3.5 M443.5 768.5 v3.5 M497.5 768.5 v3.5 M549.5 768.5 v3.5 M598.6 768.5 v3.5 M20.3 768.5 v3.5" stroke="#333" stroke-width="0.9"/>
<text x="332.6" y="794.1" text-anchor="middle" font-size="9.6">RA (deg)</text>
<text x="308.9" y="581" text-anchor="end" font-size="9.2">+75</text>
<text x="294.1" y="606.8" text-anchor="end" font-size="9.2">+60</text>
<text x="282.9" y="634.4" text-anchor="end" font-size="9.2">+45</text>
<text x="274.5" y="664" text-anchor="end" font-size="9.2">+30</text>
<text x="277.8" y="693.8" text-anchor="start" font-size="9.2">+15</text>
<text x="276" y="724.9" text-anchor="start" font-size="9.2">+0</text>
<text x="277.8" y="755.9" text-anchor="start" font-size="9.2">−15</text>
<rect x="705.5" y="758" width="11.5" height="10.8" fill="#67001f"/>
<rect x="705.5" y="747.5" width="11.5" height="10.8" fill="#8c0c25"/>
<rect x="705.5" y="737.1" width="11.5" height="10.8" fill="#b2182b"/>
<rect x="705.5" y="726.6" width="11.5" height="10.8" fill="#c43c3c"/>
<rect x="705.5" y="716.1" width="11.5" height="10.8" fill="#d6604d"/>
<rect x="705.5" y="705.6" width="11.5" height="10.8" fill="#e58267"/>
<rect x="705.5" y="695.2" width="11.5" height="10.8" fill="#f4a582"/>
<rect x="705.5" y="684.7" width="11.5" height="10.8" fill="#f9c0a4"/>
<rect x="705.5" y="674.2" width="11.5" height="10.8" fill="#fddbc7"/>
<rect x="705.5" y="663.7" width="11.5" height="10.8" fill="#fae9df"/>
<rect x="705.5" y="653.3" width="11.5" height="10.8" fill="#f7f7f7"/>
<rect x="705.5" y="642.8" width="11.5" height="10.8" fill="#e4eef4"/>
<rect x="705.5" y="632.3" width="11.5" height="10.8" fill="#d1e5f0"/>
<rect x="705.5" y="621.8" width="11.5" height="10.8" fill="#b2d5e7"/>
<rect x="705.5" y="611.4" width="11.5" height="10.8" fill="#92c5de"/>
<rect x="705.5" y="600.9" width="11.5" height="10.8" fill="#6bacd0"/>
<rect x="705.5" y="590.4" width="11.5" height="10.8" fill="#4393c3"/>
<rect x="705.5" y="579.9" width="11.5" height="10.8" fill="#327cb8"/>
<rect x="705.5" y="569.5" width="11.5" height="10.8" fill="#2166ac"/>
<rect x="705.5" y="559" width="11.5" height="10.8" fill="#134b86"/>
<rect x="705.5" y="548.5" width="11.5" height="10.8" fill="#053061"/>
<rect x="705.5" y="548.5" width="11.5" height="220" fill="none" stroke="#333" stroke-width="0.8"/>
<text x="723.2" y="551.8" font-size="9.6">8</text>
<text x="723.2" y="579.3" font-size="9.6">6</text>
<text x="723.2" y="606.8" font-size="9.6">4</text>
<text x="723.2" y="634.3" font-size="9.6">2</text>
<text x="723.2" y="661.8" font-size="9.6">0</text>
<text x="723.2" y="689.3" font-size="9.6">−2</text>
<text x="723.2" y="716.8" font-size="9.6">−4</text>
<text x="723.2" y="744.3" font-size="9.6">−6</text>
<text x="723.2" y="771.8" font-size="9.6">−8</text>
<path d="M717.0 548.5 h3 M717.0 576 h3 M717.0 603.5 h3 M717.0 631 h3 M717.0 658.5 h3 M717.0 686 h3 M717.0 713.5 h3 M717.0 741 h3 M717.0 768.5 h3" stroke="#333" stroke-width="0.9"/>
<text transform="translate(758.6 658.5) rotate(-90)" text-anchor="middle" font-size="9.6">z offsets (milli-mag)</text>
</svg></body></html>
